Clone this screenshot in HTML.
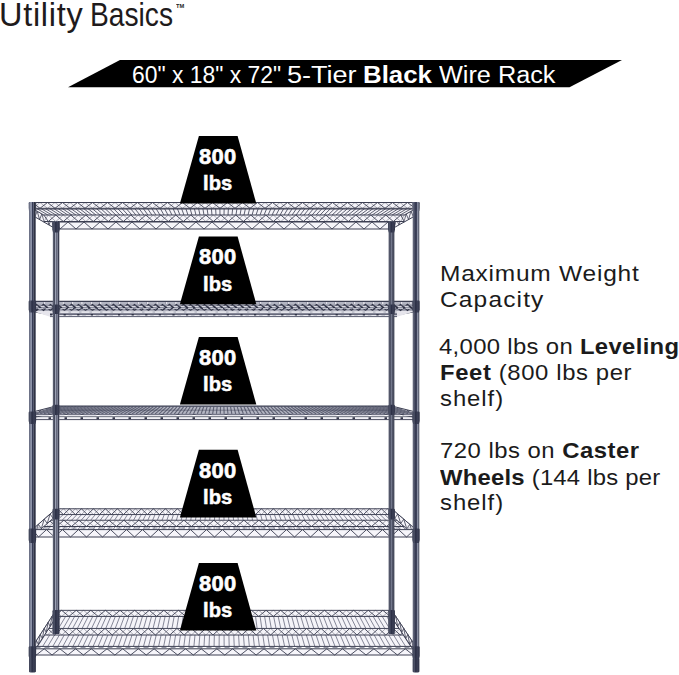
<!DOCTYPE html>
<html><head><meta charset="utf-8"><style>
html,body{margin:0;padding:0;background:#fff;}
body{width:679px;height:675px;position:relative;overflow:hidden;font-family:"Liberation Sans",sans-serif;}
.t{position:absolute;white-space:nowrap;line-height:1;transform-origin:0 0;}
b{font-weight:700;}
</style></head><body>
<svg width="679" height="675" viewBox="0 0 679 675" style="position:absolute;left:0;top:0">
<defs>
 <linearGradient id="post" x1="0" x2="1" y1="0" y2="0">
  <stop offset="0" stop-color="#70758a"/>
  <stop offset="0.14" stop-color="#6b7084"/>
  <stop offset="0.3" stop-color="#9ba1b6"/>
  <stop offset="0.4" stop-color="#868ca2"/>
  <stop offset="0.5" stop-color="#30354f"/>
  <stop offset="0.62" stop-color="#6a6f85"/>
  <stop offset="0.76" stop-color="#2a2d3c"/>
  <stop offset="0.9" stop-color="#3b3f50"/>
  <stop offset="1" stop-color="#5a5e72"/>
 </linearGradient>
 <linearGradient id="postB" x1="0" x2="1" y1="0" y2="0">
  <stop offset="0" stop-color="#7d8295"/>
  <stop offset="0.15" stop-color="#4a4e60"/>
  <stop offset="0.28" stop-color="#474b5e"/>
  <stop offset="0.4" stop-color="#a0a5b8"/>
  <stop offset="0.53" stop-color="#5c6075"/>
  <stop offset="0.68" stop-color="#8b90a3"/>
  <stop offset="0.85" stop-color="#33364a"/>
  <stop offset="1" stop-color="#6a6e80"/>
 </linearGradient>
 <linearGradient id="postR" x1="0" x2="1" y1="0" y2="0">
  <stop offset="0" stop-color="#6a6e80"/>
  <stop offset="0.2" stop-color="#575b70"/>
  <stop offset="0.4" stop-color="#3a3e56"/>
  <stop offset="0.55" stop-color="#30344c"/>
  <stop offset="0.72" stop-color="#8a8fa3"/>
  <stop offset="0.86" stop-color="#656a7c"/>
  <stop offset="1" stop-color="#4c5060"/>
 </linearGradient>
 <linearGradient id="postBR" x1="0" x2="1" y1="0" y2="0">
  <stop offset="0" stop-color="#5a5e70"/>
  <stop offset="0.3" stop-color="#4b4f62"/>
  <stop offset="0.5" stop-color="#72778b"/>
  <stop offset="0.7" stop-color="#4b4f62"/>
  <stop offset="1" stop-color="#444859"/>
 </linearGradient>
 <linearGradient id="collar" x1="0" x2="1" y1="0" y2="0">
  <stop offset="0" stop-color="#3a3e52"/>
  <stop offset="0.25" stop-color="#4e5368"/>
  <stop offset="0.45" stop-color="#2a2e44"/>
  <stop offset="0.7" stop-color="#3c4056"/>
  <stop offset="1" stop-color="#2e3246"/>
 </linearGradient>
</defs>
<polygon points="56.00,222.00 32.50,208.50 32.50,215.50 56.00,229.00" fill="#f5f4f9" />
<line x1="56.00" y1="222.00" x2="32.50" y2="208.50" stroke="#3c3f52" stroke-width="1.0" opacity="1.0"/>
<line x1="56.00" y1="229.00" x2="32.50" y2="215.50" stroke="#3c3f52" stroke-width="1.0" opacity="1.0"/>
<line x1="56.00" y1="222.00" x2="53.65" y2="227.65" stroke="#3c3f52" stroke-width="0.8" opacity="1.0"/>
<line x1="53.65" y1="227.65" x2="51.30" y2="219.30" stroke="#3c3f52" stroke-width="0.8" opacity="1.0"/>
<line x1="51.30" y1="219.30" x2="48.95" y2="224.95" stroke="#3c3f52" stroke-width="0.8" opacity="1.0"/>
<line x1="48.95" y1="224.95" x2="46.60" y2="216.60" stroke="#3c3f52" stroke-width="0.8" opacity="1.0"/>
<line x1="46.60" y1="216.60" x2="44.25" y2="222.25" stroke="#3c3f52" stroke-width="0.8" opacity="1.0"/>
<line x1="44.25" y1="222.25" x2="41.90" y2="213.90" stroke="#3c3f52" stroke-width="0.8" opacity="1.0"/>
<line x1="41.90" y1="213.90" x2="39.55" y2="219.55" stroke="#3c3f52" stroke-width="0.8" opacity="1.0"/>
<line x1="39.55" y1="219.55" x2="37.20" y2="211.20" stroke="#3c3f52" stroke-width="0.8" opacity="1.0"/>
<line x1="37.20" y1="211.20" x2="34.85" y2="216.85" stroke="#3c3f52" stroke-width="0.8" opacity="1.0"/>
<line x1="34.85" y1="216.85" x2="32.50" y2="208.50" stroke="#3c3f52" stroke-width="0.8" opacity="1.0"/>
<polygon points="391.70,222.00 415.80,208.50 415.80,215.50 391.70,229.00" fill="#f5f4f9" />
<line x1="391.70" y1="222.00" x2="415.80" y2="208.50" stroke="#3c3f52" stroke-width="1.0" opacity="1.0"/>
<line x1="391.70" y1="229.00" x2="415.80" y2="215.50" stroke="#3c3f52" stroke-width="1.0" opacity="1.0"/>
<line x1="391.70" y1="222.00" x2="394.11" y2="227.65" stroke="#3c3f52" stroke-width="0.8" opacity="1.0"/>
<line x1="394.11" y1="227.65" x2="396.52" y2="219.30" stroke="#3c3f52" stroke-width="0.8" opacity="1.0"/>
<line x1="396.52" y1="219.30" x2="398.93" y2="224.95" stroke="#3c3f52" stroke-width="0.8" opacity="1.0"/>
<line x1="398.93" y1="224.95" x2="401.34" y2="216.60" stroke="#3c3f52" stroke-width="0.8" opacity="1.0"/>
<line x1="401.34" y1="216.60" x2="403.75" y2="222.25" stroke="#3c3f52" stroke-width="0.8" opacity="1.0"/>
<line x1="403.75" y1="222.25" x2="406.16" y2="213.90" stroke="#3c3f52" stroke-width="0.8" opacity="1.0"/>
<line x1="406.16" y1="213.90" x2="408.57" y2="219.55" stroke="#3c3f52" stroke-width="0.8" opacity="1.0"/>
<line x1="408.57" y1="219.55" x2="410.98" y2="211.20" stroke="#3c3f52" stroke-width="0.8" opacity="1.0"/>
<line x1="410.98" y1="211.20" x2="413.39" y2="216.85" stroke="#3c3f52" stroke-width="0.8" opacity="1.0"/>
<line x1="413.39" y1="216.85" x2="415.80" y2="208.50" stroke="#3c3f52" stroke-width="0.8" opacity="1.0"/>
<polygon points="32.50,208.50 415.80,208.50 391.70,222.00 56.00,222.00" fill="#f5f4f9" />
<line x1="32.50" y1="208.50" x2="56.00" y2="222.00" stroke="#3c3f52" stroke-width="0.9" opacity="0.9"/>
<line x1="36.76" y1="208.50" x2="59.73" y2="222.00" stroke="#3c3f52" stroke-width="0.9" opacity="0.9"/>
<line x1="41.02" y1="208.50" x2="63.46" y2="222.00" stroke="#3c3f52" stroke-width="0.9" opacity="0.9"/>
<line x1="45.28" y1="208.50" x2="67.19" y2="222.00" stroke="#3c3f52" stroke-width="0.9" opacity="0.9"/>
<line x1="49.54" y1="208.50" x2="70.92" y2="222.00" stroke="#3c3f52" stroke-width="0.9" opacity="0.9"/>
<line x1="53.79" y1="208.50" x2="74.65" y2="222.00" stroke="#3c3f52" stroke-width="0.9" opacity="0.9"/>
<line x1="58.05" y1="208.50" x2="78.38" y2="222.00" stroke="#3c3f52" stroke-width="0.9" opacity="0.9"/>
<line x1="62.31" y1="208.50" x2="82.11" y2="222.00" stroke="#3c3f52" stroke-width="0.9" opacity="0.9"/>
<line x1="66.57" y1="208.50" x2="85.84" y2="222.00" stroke="#3c3f52" stroke-width="0.9" opacity="0.9"/>
<line x1="70.83" y1="208.50" x2="89.57" y2="222.00" stroke="#3c3f52" stroke-width="0.9" opacity="0.9"/>
<line x1="75.09" y1="208.50" x2="93.30" y2="222.00" stroke="#3c3f52" stroke-width="0.9" opacity="0.9"/>
<line x1="79.35" y1="208.50" x2="97.03" y2="222.00" stroke="#3c3f52" stroke-width="0.9" opacity="0.9"/>
<line x1="83.61" y1="208.50" x2="100.76" y2="222.00" stroke="#3c3f52" stroke-width="0.9" opacity="0.9"/>
<line x1="87.87" y1="208.50" x2="104.49" y2="222.00" stroke="#3c3f52" stroke-width="0.9" opacity="0.9"/>
<line x1="92.12" y1="208.50" x2="108.22" y2="222.00" stroke="#3c3f52" stroke-width="0.9" opacity="0.9"/>
<line x1="96.38" y1="208.50" x2="111.95" y2="222.00" stroke="#3c3f52" stroke-width="0.9" opacity="0.9"/>
<line x1="100.64" y1="208.50" x2="115.68" y2="222.00" stroke="#3c3f52" stroke-width="0.9" opacity="0.9"/>
<line x1="104.90" y1="208.50" x2="119.41" y2="222.00" stroke="#3c3f52" stroke-width="0.9" opacity="0.9"/>
<line x1="109.16" y1="208.50" x2="123.14" y2="222.00" stroke="#3c3f52" stroke-width="0.9" opacity="0.9"/>
<line x1="113.42" y1="208.50" x2="126.87" y2="222.00" stroke="#3c3f52" stroke-width="0.9" opacity="0.9"/>
<line x1="117.68" y1="208.50" x2="130.60" y2="222.00" stroke="#3c3f52" stroke-width="0.9" opacity="0.9"/>
<line x1="121.94" y1="208.50" x2="134.33" y2="222.00" stroke="#3c3f52" stroke-width="0.9" opacity="0.9"/>
<line x1="126.20" y1="208.50" x2="138.06" y2="222.00" stroke="#3c3f52" stroke-width="0.9" opacity="0.9"/>
<line x1="130.45" y1="208.50" x2="141.79" y2="222.00" stroke="#3c3f52" stroke-width="0.9" opacity="0.9"/>
<line x1="134.71" y1="208.50" x2="145.52" y2="222.00" stroke="#3c3f52" stroke-width="0.9" opacity="0.9"/>
<line x1="138.97" y1="208.50" x2="149.25" y2="222.00" stroke="#3c3f52" stroke-width="0.9" opacity="0.9"/>
<line x1="143.23" y1="208.50" x2="152.98" y2="222.00" stroke="#3c3f52" stroke-width="0.9" opacity="0.9"/>
<line x1="147.49" y1="208.50" x2="156.71" y2="222.00" stroke="#3c3f52" stroke-width="0.9" opacity="0.9"/>
<line x1="151.75" y1="208.50" x2="160.44" y2="222.00" stroke="#3c3f52" stroke-width="0.9" opacity="0.9"/>
<line x1="156.01" y1="208.50" x2="164.17" y2="222.00" stroke="#3c3f52" stroke-width="0.9" opacity="0.9"/>
<line x1="160.27" y1="208.50" x2="167.90" y2="222.00" stroke="#3c3f52" stroke-width="0.9" opacity="0.9"/>
<line x1="164.53" y1="208.50" x2="171.63" y2="222.00" stroke="#3c3f52" stroke-width="0.9" opacity="0.9"/>
<line x1="168.78" y1="208.50" x2="175.36" y2="222.00" stroke="#3c3f52" stroke-width="0.9" opacity="0.9"/>
<line x1="173.04" y1="208.50" x2="179.09" y2="222.00" stroke="#3c3f52" stroke-width="0.9" opacity="0.9"/>
<line x1="177.30" y1="208.50" x2="182.82" y2="222.00" stroke="#3c3f52" stroke-width="0.9" opacity="0.9"/>
<line x1="181.56" y1="208.50" x2="186.55" y2="222.00" stroke="#3c3f52" stroke-width="0.9" opacity="0.9"/>
<line x1="185.82" y1="208.50" x2="190.28" y2="222.00" stroke="#3c3f52" stroke-width="0.9" opacity="0.9"/>
<line x1="190.08" y1="208.50" x2="194.01" y2="222.00" stroke="#3c3f52" stroke-width="0.9" opacity="0.9"/>
<line x1="194.34" y1="208.50" x2="197.74" y2="222.00" stroke="#3c3f52" stroke-width="0.9" opacity="0.9"/>
<line x1="198.60" y1="208.50" x2="201.47" y2="222.00" stroke="#3c3f52" stroke-width="0.9" opacity="0.9"/>
<line x1="202.86" y1="208.50" x2="205.20" y2="222.00" stroke="#3c3f52" stroke-width="0.9" opacity="0.9"/>
<line x1="207.11" y1="208.50" x2="208.93" y2="222.00" stroke="#3c3f52" stroke-width="0.9" opacity="0.9"/>
<line x1="211.37" y1="208.50" x2="212.66" y2="222.00" stroke="#3c3f52" stroke-width="0.9" opacity="0.9"/>
<line x1="215.63" y1="208.50" x2="216.39" y2="222.00" stroke="#3c3f52" stroke-width="0.9" opacity="0.9"/>
<line x1="219.89" y1="208.50" x2="220.12" y2="222.00" stroke="#3c3f52" stroke-width="0.9" opacity="0.9"/>
<line x1="224.15" y1="208.50" x2="223.85" y2="222.00" stroke="#3c3f52" stroke-width="0.9" opacity="0.9"/>
<line x1="228.41" y1="208.50" x2="227.58" y2="222.00" stroke="#3c3f52" stroke-width="0.9" opacity="0.9"/>
<line x1="232.67" y1="208.50" x2="231.31" y2="222.00" stroke="#3c3f52" stroke-width="0.9" opacity="0.9"/>
<line x1="236.93" y1="208.50" x2="235.04" y2="222.00" stroke="#3c3f52" stroke-width="0.9" opacity="0.9"/>
<line x1="241.19" y1="208.50" x2="238.77" y2="222.00" stroke="#3c3f52" stroke-width="0.9" opacity="0.9"/>
<line x1="245.44" y1="208.50" x2="242.50" y2="222.00" stroke="#3c3f52" stroke-width="0.9" opacity="0.9"/>
<line x1="249.70" y1="208.50" x2="246.23" y2="222.00" stroke="#3c3f52" stroke-width="0.9" opacity="0.9"/>
<line x1="253.96" y1="208.50" x2="249.96" y2="222.00" stroke="#3c3f52" stroke-width="0.9" opacity="0.9"/>
<line x1="258.22" y1="208.50" x2="253.69" y2="222.00" stroke="#3c3f52" stroke-width="0.9" opacity="0.9"/>
<line x1="262.48" y1="208.50" x2="257.42" y2="222.00" stroke="#3c3f52" stroke-width="0.9" opacity="0.9"/>
<line x1="266.74" y1="208.50" x2="261.15" y2="222.00" stroke="#3c3f52" stroke-width="0.9" opacity="0.9"/>
<line x1="271.00" y1="208.50" x2="264.88" y2="222.00" stroke="#3c3f52" stroke-width="0.9" opacity="0.9"/>
<line x1="275.26" y1="208.50" x2="268.61" y2="222.00" stroke="#3c3f52" stroke-width="0.9" opacity="0.9"/>
<line x1="279.52" y1="208.50" x2="272.34" y2="222.00" stroke="#3c3f52" stroke-width="0.9" opacity="0.9"/>
<line x1="283.77" y1="208.50" x2="276.07" y2="222.00" stroke="#3c3f52" stroke-width="0.9" opacity="0.9"/>
<line x1="288.03" y1="208.50" x2="279.80" y2="222.00" stroke="#3c3f52" stroke-width="0.9" opacity="0.9"/>
<line x1="292.29" y1="208.50" x2="283.53" y2="222.00" stroke="#3c3f52" stroke-width="0.9" opacity="0.9"/>
<line x1="296.55" y1="208.50" x2="287.26" y2="222.00" stroke="#3c3f52" stroke-width="0.9" opacity="0.9"/>
<line x1="300.81" y1="208.50" x2="290.99" y2="222.00" stroke="#3c3f52" stroke-width="0.9" opacity="0.9"/>
<line x1="305.07" y1="208.50" x2="294.72" y2="222.00" stroke="#3c3f52" stroke-width="0.9" opacity="0.9"/>
<line x1="309.33" y1="208.50" x2="298.45" y2="222.00" stroke="#3c3f52" stroke-width="0.9" opacity="0.9"/>
<line x1="313.59" y1="208.50" x2="302.18" y2="222.00" stroke="#3c3f52" stroke-width="0.9" opacity="0.9"/>
<line x1="317.85" y1="208.50" x2="305.91" y2="222.00" stroke="#3c3f52" stroke-width="0.9" opacity="0.9"/>
<line x1="322.10" y1="208.50" x2="309.64" y2="222.00" stroke="#3c3f52" stroke-width="0.9" opacity="0.9"/>
<line x1="326.36" y1="208.50" x2="313.37" y2="222.00" stroke="#3c3f52" stroke-width="0.9" opacity="0.9"/>
<line x1="330.62" y1="208.50" x2="317.10" y2="222.00" stroke="#3c3f52" stroke-width="0.9" opacity="0.9"/>
<line x1="334.88" y1="208.50" x2="320.83" y2="222.00" stroke="#3c3f52" stroke-width="0.9" opacity="0.9"/>
<line x1="339.14" y1="208.50" x2="324.56" y2="222.00" stroke="#3c3f52" stroke-width="0.9" opacity="0.9"/>
<line x1="343.40" y1="208.50" x2="328.29" y2="222.00" stroke="#3c3f52" stroke-width="0.9" opacity="0.9"/>
<line x1="347.66" y1="208.50" x2="332.02" y2="222.00" stroke="#3c3f52" stroke-width="0.9" opacity="0.9"/>
<line x1="351.92" y1="208.50" x2="335.75" y2="222.00" stroke="#3c3f52" stroke-width="0.9" opacity="0.9"/>
<line x1="356.18" y1="208.50" x2="339.48" y2="222.00" stroke="#3c3f52" stroke-width="0.9" opacity="0.9"/>
<line x1="360.43" y1="208.50" x2="343.21" y2="222.00" stroke="#3c3f52" stroke-width="0.9" opacity="0.9"/>
<line x1="364.69" y1="208.50" x2="346.94" y2="222.00" stroke="#3c3f52" stroke-width="0.9" opacity="0.9"/>
<line x1="368.95" y1="208.50" x2="350.67" y2="222.00" stroke="#3c3f52" stroke-width="0.9" opacity="0.9"/>
<line x1="373.21" y1="208.50" x2="354.40" y2="222.00" stroke="#3c3f52" stroke-width="0.9" opacity="0.9"/>
<line x1="377.47" y1="208.50" x2="358.13" y2="222.00" stroke="#3c3f52" stroke-width="0.9" opacity="0.9"/>
<line x1="381.73" y1="208.50" x2="361.86" y2="222.00" stroke="#3c3f52" stroke-width="0.9" opacity="0.9"/>
<line x1="385.99" y1="208.50" x2="365.59" y2="222.00" stroke="#3c3f52" stroke-width="0.9" opacity="0.9"/>
<line x1="390.25" y1="208.50" x2="369.32" y2="222.00" stroke="#3c3f52" stroke-width="0.9" opacity="0.9"/>
<line x1="394.51" y1="208.50" x2="373.05" y2="222.00" stroke="#3c3f52" stroke-width="0.9" opacity="0.9"/>
<line x1="398.76" y1="208.50" x2="376.78" y2="222.00" stroke="#3c3f52" stroke-width="0.9" opacity="0.9"/>
<line x1="403.02" y1="208.50" x2="380.51" y2="222.00" stroke="#3c3f52" stroke-width="0.9" opacity="0.9"/>
<line x1="407.28" y1="208.50" x2="384.24" y2="222.00" stroke="#3c3f52" stroke-width="0.9" opacity="0.9"/>
<line x1="411.54" y1="208.50" x2="387.97" y2="222.00" stroke="#3c3f52" stroke-width="0.9" opacity="0.9"/>
<line x1="415.80" y1="208.50" x2="391.70" y2="222.00" stroke="#3c3f52" stroke-width="0.9" opacity="0.9"/>
<polygon points="43.81,215.00 404.20,215.00 404.20,221.50 43.81,221.50" fill="#f5f4f9" />
<line x1="43.81" y1="215.00" x2="404.20" y2="215.00" stroke="#3c3f52" stroke-width="1.0" opacity="1.0"/>
<line x1="43.81" y1="221.50" x2="404.20" y2="221.50" stroke="#3c3f52" stroke-width="1.0" opacity="1.0"/>
<polyline points="43.81,215.00 48.31,221.50 55.81,215.00 63.31,221.50 70.81,215.00 78.31,221.50 85.81,215.00 93.31,221.50 100.81,215.00 108.31,221.50 115.81,215.00 123.31,221.50 130.81,215.00 138.31,221.50 145.81,215.00 153.31,221.50 160.81,215.00 168.31,221.50 175.81,215.00 183.31,221.50 190.81,215.00 198.31,221.50 205.81,215.00 213.31,221.50 220.81,215.00 228.31,221.50 235.81,215.00 243.31,221.50 250.81,215.00 258.31,221.50 265.81,215.00 273.31,221.50 280.81,215.00 288.31,221.50 295.81,215.00 303.31,221.50 310.81,215.00 318.31,221.50 325.81,215.00 333.31,221.50 340.81,215.00 348.31,221.50 355.81,215.00 363.31,221.50 370.81,215.00 378.31,221.50 385.81,215.00 393.31,221.50 400.81,215.00 404.20,221.50" fill="none" stroke="#3c3f52" stroke-width="0.9" opacity="1.0"/>
<polyline points="43.81,221.50 48.31,215.00 55.81,221.50 63.31,215.00 70.81,221.50 78.31,215.00 85.81,221.50 93.31,215.00 100.81,221.50 108.31,215.00 115.81,221.50 123.31,215.00 130.81,221.50 138.31,215.00 145.81,221.50 153.31,215.00 160.81,221.50 168.31,215.00 175.81,221.50 183.31,215.00 190.81,221.50 198.31,215.00 205.81,221.50 213.31,215.00 220.81,221.50 228.31,215.00 235.81,221.50 243.31,215.00 250.81,221.50 258.31,215.00 265.81,221.50 273.31,215.00 280.81,221.50 288.31,215.00 295.81,221.50 303.31,215.00 310.81,221.50 318.31,215.00 325.81,221.50 333.31,215.00 340.81,221.50 348.31,215.00 355.81,221.50 363.31,215.00 370.81,221.50 378.31,215.00 385.81,221.50 393.31,215.00 400.81,221.50 404.20,215.00" fill="none" stroke="#3c3f52" stroke-width="0.7200000000000001" opacity="0.55"/>
<line x1="33.67" y1="209.00" x2="414.60" y2="209.00" stroke="#3c3f52" stroke-width="1.0" opacity="1.0"/>
<polygon points="32.50,202.50 415.80,202.50 415.80,208.30 32.50,208.30" fill="#f5f4f9" />
<line x1="32.50" y1="202.50" x2="415.80" y2="202.50" stroke="#3c3f52" stroke-width="1.0" opacity="1.0"/>
<line x1="32.50" y1="208.30" x2="415.80" y2="208.30" stroke="#3c3f52" stroke-width="1.0" opacity="1.0"/>
<polyline points="32.50,202.50 40.00,208.30 47.50,202.50 55.00,208.30 62.50,202.50 70.00,208.30 77.50,202.50 85.00,208.30 92.50,202.50 100.00,208.30 107.50,202.50 115.00,208.30 122.50,202.50 130.00,208.30 137.50,202.50 145.00,208.30 152.50,202.50 160.00,208.30 167.50,202.50 175.00,208.30 182.50,202.50 190.00,208.30 197.50,202.50 205.00,208.30 212.50,202.50 220.00,208.30 227.50,202.50 235.00,208.30 242.50,202.50 250.00,208.30 257.50,202.50 265.00,208.30 272.50,202.50 280.00,208.30 287.50,202.50 295.00,208.30 302.50,202.50 310.00,208.30 317.50,202.50 325.00,208.30 332.50,202.50 340.00,208.30 347.50,202.50 355.00,208.30 362.50,202.50 370.00,208.30 377.50,202.50 385.00,208.30 392.50,202.50 400.00,208.30 407.50,202.50 415.00,208.30 415.80,202.50" fill="none" stroke="#3c3f52" stroke-width="0.9" opacity="1.0"/>
<polyline points="32.50,208.30 40.00,202.50 47.50,208.30 55.00,202.50 62.50,208.30 70.00,202.50 77.50,208.30 85.00,202.50 92.50,208.30 100.00,202.50 107.50,208.30 115.00,202.50 122.50,208.30 130.00,202.50 137.50,208.30 145.00,202.50 152.50,208.30 160.00,202.50 167.50,208.30 175.00,202.50 182.50,208.30 190.00,202.50 197.50,208.30 205.00,202.50 212.50,208.30 220.00,202.50 227.50,208.30 235.00,202.50 242.50,208.30 250.00,202.50 257.50,208.30 265.00,202.50 272.50,208.30 280.00,202.50 287.50,208.30 295.00,202.50 302.50,208.30 310.00,202.50 317.50,208.30 325.00,202.50 332.50,208.30 340.00,202.50 347.50,208.30 355.00,202.50 362.50,208.30 370.00,202.50 377.50,208.30 385.00,202.50 392.50,208.30 400.00,202.50 407.50,208.30 415.00,202.50 415.80,208.30" fill="none" stroke="#3c3f52" stroke-width="0.7200000000000001" opacity="0.55"/>
<polygon points="56.00,222.00 391.70,222.00 391.70,229.00 56.00,229.00" fill="#f5f4f9" />
<line x1="56.00" y1="222.00" x2="391.70" y2="222.00" stroke="#3c3f52" stroke-width="1.0" opacity="1.0"/>
<line x1="56.00" y1="229.00" x2="391.70" y2="229.00" stroke="#3c3f52" stroke-width="1.0" opacity="1.0"/>
<polyline points="56.00,222.00 60.00,229.00 68.00,222.00 76.00,229.00 84.00,222.00 92.00,229.00 100.00,222.00 108.00,229.00 116.00,222.00 124.00,229.00 132.00,222.00 140.00,229.00 148.00,222.00 156.00,229.00 164.00,222.00 172.00,229.00 180.00,222.00 188.00,229.00 196.00,222.00 204.00,229.00 212.00,222.00 220.00,229.00 228.00,222.00 236.00,229.00 244.00,222.00 252.00,229.00 260.00,222.00 268.00,229.00 276.00,222.00 284.00,229.00 292.00,222.00 300.00,229.00 308.00,222.00 316.00,229.00 324.00,222.00 332.00,229.00 340.00,222.00 348.00,229.00 356.00,222.00 364.00,229.00 372.00,222.00 380.00,229.00 388.00,222.00 391.70,229.00" fill="none" stroke="#3c3f52" stroke-width="0.9" opacity="1.0"/>
<polygon points="56.00,309.00 32.50,304.50 32.50,311.50 56.00,316.00" fill="#f5f4f9" />
<line x1="56.00" y1="309.00" x2="32.50" y2="304.50" stroke="#3c3f52" stroke-width="1.0" opacity="1.0"/>
<line x1="56.00" y1="316.00" x2="32.50" y2="311.50" stroke="#3c3f52" stroke-width="1.0" opacity="1.0"/>
<line x1="56.00" y1="309.00" x2="52.08" y2="315.25" stroke="#3c3f52" stroke-width="0.8" opacity="1.0"/>
<line x1="52.08" y1="315.25" x2="48.17" y2="307.50" stroke="#3c3f52" stroke-width="0.8" opacity="1.0"/>
<line x1="48.17" y1="307.50" x2="44.25" y2="313.75" stroke="#3c3f52" stroke-width="0.8" opacity="1.0"/>
<line x1="44.25" y1="313.75" x2="40.33" y2="306.00" stroke="#3c3f52" stroke-width="0.8" opacity="1.0"/>
<line x1="40.33" y1="306.00" x2="36.42" y2="312.25" stroke="#3c3f52" stroke-width="0.8" opacity="1.0"/>
<line x1="36.42" y1="312.25" x2="32.50" y2="304.50" stroke="#3c3f52" stroke-width="0.8" opacity="1.0"/>
<polygon points="391.70,309.00 415.80,304.50 415.80,311.50 391.70,316.00" fill="#f5f4f9" />
<line x1="391.70" y1="309.00" x2="415.80" y2="304.50" stroke="#3c3f52" stroke-width="1.0" opacity="1.0"/>
<line x1="391.70" y1="316.00" x2="415.80" y2="311.50" stroke="#3c3f52" stroke-width="1.0" opacity="1.0"/>
<line x1="391.70" y1="309.00" x2="395.72" y2="315.25" stroke="#3c3f52" stroke-width="0.8" opacity="1.0"/>
<line x1="395.72" y1="315.25" x2="399.73" y2="307.50" stroke="#3c3f52" stroke-width="0.8" opacity="1.0"/>
<line x1="399.73" y1="307.50" x2="403.75" y2="313.75" stroke="#3c3f52" stroke-width="0.8" opacity="1.0"/>
<line x1="403.75" y1="313.75" x2="407.77" y2="306.00" stroke="#3c3f52" stroke-width="0.8" opacity="1.0"/>
<line x1="407.77" y1="306.00" x2="411.78" y2="312.25" stroke="#3c3f52" stroke-width="0.8" opacity="1.0"/>
<line x1="411.78" y1="312.25" x2="415.80" y2="304.50" stroke="#3c3f52" stroke-width="0.8" opacity="1.0"/>
<polygon points="32.50,301.00 415.80,301.00 415.80,311.00 397.00,316.80 50.00,316.80 32.50,311.00" fill="#e6e5ec" />
<line x1="32.50" y1="301.40" x2="415.80" y2="301.40" stroke="#3c3f52" stroke-width="1.2" opacity="1.0"/>
<line x1="34.5" y1="303.0" x2="413.8" y2="303.0" stroke="#5a5d70" stroke-width="2.2" stroke-dasharray="1.6 7.8" stroke-dashoffset="2"/>
<line x1="34.5" y1="303.0" x2="413.8" y2="303.0" stroke="#b4b6c3" stroke-width="2.0" stroke-dasharray="7.8 1.6" stroke-dashoffset="-1"/>
<polygon points="32.50,304.20 415.80,304.20 415.80,310.70 32.50,310.70" fill="#8e91a1" />
<polyline points="32.50,304.40 36.50,310.50 43.50,304.40 50.50,310.50 57.50,304.40 64.50,310.50 71.50,304.40 78.50,310.50 85.50,304.40 92.50,310.50 99.50,304.40 106.50,310.50 113.50,304.40 120.50,310.50 127.50,304.40 134.50,310.50 141.50,304.40 148.50,310.50 155.50,304.40 162.50,310.50 169.50,304.40 176.50,310.50 183.50,304.40 190.50,310.50 197.50,304.40 204.50,310.50 211.50,304.40 218.50,310.50 225.50,304.40 232.50,310.50 239.50,304.40 246.50,310.50 253.50,304.40 260.50,310.50 267.50,304.40 274.50,310.50 281.50,304.40 288.50,310.50 295.50,304.40 302.50,310.50 309.50,304.40 316.50,310.50 323.50,304.40 330.50,310.50 337.50,304.40 344.50,310.50 351.50,304.40 358.50,310.50 365.50,304.40 372.50,310.50 379.50,304.40 386.50,310.50 393.50,304.40 400.50,310.50 407.50,304.40 414.50,310.50 415.80,304.40" fill="none" stroke="#2f3245" stroke-width="1.3" opacity="1.0"/>
<polyline points="32.50,310.50 36.50,304.40 43.50,310.50 50.50,304.40 57.50,310.50 64.50,304.40 71.50,310.50 78.50,304.40 85.50,310.50 92.50,304.40 99.50,310.50 106.50,304.40 113.50,310.50 120.50,304.40 127.50,310.50 134.50,304.40 141.50,310.50 148.50,304.40 155.50,310.50 162.50,304.40 169.50,310.50 176.50,304.40 183.50,310.50 190.50,304.40 197.50,310.50 204.50,304.40 211.50,310.50 218.50,304.40 225.50,310.50 232.50,304.40 239.50,310.50 246.50,304.40 253.50,310.50 260.50,304.40 267.50,310.50 274.50,304.40 281.50,310.50 288.50,304.40 295.50,310.50 302.50,304.40 309.50,310.50 316.50,304.40 323.50,310.50 330.50,304.40 337.50,310.50 344.50,304.40 351.50,310.50 358.50,304.40 365.50,310.50 372.50,304.40 379.50,310.50 386.50,304.40 393.50,310.50 400.50,304.40 407.50,310.50 414.50,304.40 415.80,310.50" fill="none" stroke="#2f3245" stroke-width="1.1" opacity="1.0"/>
<line x1="34.5" y1="306.3" x2="413.8" y2="306.3" stroke="#d8d8e0" stroke-width="1.3" stroke-dasharray="4 3" stroke-dashoffset="1"/>
<line x1="34.5" y1="308.6" x2="413.8" y2="308.6" stroke="#c9cad4" stroke-width="1.0" stroke-dasharray="5 2.5" stroke-dashoffset="4"/>
<polygon points="50.00,310.70 397.00,310.70 397.00,316.60 50.00,316.60" fill="#c2c4ce" />
<line x1="50.0" y1="312.1" x2="397.0" y2="312.1" stroke="#e2e2e9" stroke-width="1.6" stroke-dasharray="8 2.5"/>
<line x1="50.0" y1="315.5" x2="397.0" y2="315.5" stroke="#e6e6ec" stroke-width="1.2" stroke-dasharray="10 3.6" stroke-dashoffset="5"/>
<line x1="50.00" y1="314.20" x2="397.00" y2="314.20" stroke="#4a4d61" stroke-width="1.2" opacity="1.0"/>
<line x1="50.0" y1="314.7" x2="397.0" y2="314.7" stroke="#2f3245" stroke-width="1.6" stroke-dasharray="2.2 11.4"/>
<line x1="50.00" y1="316.60" x2="397.00" y2="316.60" stroke="#5a5d70" stroke-width="1.0" opacity="1.0"/>
<polygon points="56.00,406.00 32.50,412.00 32.50,418.00 56.00,412.00" fill="#f5f4f9" />
<line x1="56.00" y1="406.00" x2="32.50" y2="412.00" stroke="#3c3f52" stroke-width="1.0" opacity="1.0"/>
<line x1="56.00" y1="412.00" x2="32.50" y2="418.00" stroke="#3c3f52" stroke-width="1.0" opacity="1.0"/>
<line x1="56.00" y1="406.00" x2="52.08" y2="413.00" stroke="#3c3f52" stroke-width="0.8" opacity="1.0"/>
<line x1="52.08" y1="413.00" x2="48.17" y2="408.00" stroke="#3c3f52" stroke-width="0.8" opacity="1.0"/>
<line x1="48.17" y1="408.00" x2="44.25" y2="415.00" stroke="#3c3f52" stroke-width="0.8" opacity="1.0"/>
<line x1="44.25" y1="415.00" x2="40.33" y2="410.00" stroke="#3c3f52" stroke-width="0.8" opacity="1.0"/>
<line x1="40.33" y1="410.00" x2="36.42" y2="417.00" stroke="#3c3f52" stroke-width="0.8" opacity="1.0"/>
<line x1="36.42" y1="417.00" x2="32.50" y2="412.00" stroke="#3c3f52" stroke-width="0.8" opacity="1.0"/>
<polygon points="391.70,406.00 415.80,412.00 415.80,418.00 391.70,412.00" fill="#f5f4f9" />
<line x1="391.70" y1="406.00" x2="415.80" y2="412.00" stroke="#3c3f52" stroke-width="1.0" opacity="1.0"/>
<line x1="391.70" y1="412.00" x2="415.80" y2="418.00" stroke="#3c3f52" stroke-width="1.0" opacity="1.0"/>
<line x1="391.70" y1="406.00" x2="395.72" y2="413.00" stroke="#3c3f52" stroke-width="0.8" opacity="1.0"/>
<line x1="395.72" y1="413.00" x2="399.73" y2="408.00" stroke="#3c3f52" stroke-width="0.8" opacity="1.0"/>
<line x1="399.73" y1="408.00" x2="403.75" y2="415.00" stroke="#3c3f52" stroke-width="0.8" opacity="1.0"/>
<line x1="403.75" y1="415.00" x2="407.77" y2="410.00" stroke="#3c3f52" stroke-width="0.8" opacity="1.0"/>
<line x1="407.77" y1="410.00" x2="411.78" y2="417.00" stroke="#3c3f52" stroke-width="0.8" opacity="1.0"/>
<line x1="411.78" y1="417.00" x2="415.80" y2="412.00" stroke="#3c3f52" stroke-width="0.8" opacity="1.0"/>
<polygon points="56.00,406.00 391.70,406.00 415.80,414.20 32.50,414.20" fill="#b4b6c3" />
<line x1="56.00" y1="406.80" x2="32.50" y2="413.80" stroke="#43465a" stroke-width="1.1" opacity="0.75"/>
<line x1="59.36" y1="406.80" x2="36.33" y2="413.80" stroke="#43465a" stroke-width="1.1" opacity="0.75"/>
<line x1="62.71" y1="406.80" x2="40.17" y2="413.80" stroke="#43465a" stroke-width="1.1" opacity="0.75"/>
<line x1="66.07" y1="406.80" x2="44.00" y2="413.80" stroke="#43465a" stroke-width="1.1" opacity="0.75"/>
<line x1="69.43" y1="406.80" x2="47.83" y2="413.80" stroke="#43465a" stroke-width="1.1" opacity="0.75"/>
<line x1="72.78" y1="406.80" x2="51.67" y2="413.80" stroke="#43465a" stroke-width="1.1" opacity="0.75"/>
<line x1="76.14" y1="406.80" x2="55.50" y2="413.80" stroke="#43465a" stroke-width="1.1" opacity="0.75"/>
<line x1="79.50" y1="406.80" x2="59.33" y2="413.80" stroke="#43465a" stroke-width="1.1" opacity="0.75"/>
<line x1="82.86" y1="406.80" x2="63.16" y2="413.80" stroke="#43465a" stroke-width="1.1" opacity="0.75"/>
<line x1="86.21" y1="406.80" x2="67.00" y2="413.80" stroke="#43465a" stroke-width="1.1" opacity="0.75"/>
<line x1="89.57" y1="406.80" x2="70.83" y2="413.80" stroke="#43465a" stroke-width="1.1" opacity="0.75"/>
<line x1="92.93" y1="406.80" x2="74.66" y2="413.80" stroke="#43465a" stroke-width="1.1" opacity="0.75"/>
<line x1="96.28" y1="406.80" x2="78.50" y2="413.80" stroke="#43465a" stroke-width="1.1" opacity="0.75"/>
<line x1="99.64" y1="406.80" x2="82.33" y2="413.80" stroke="#43465a" stroke-width="1.1" opacity="0.75"/>
<line x1="103.00" y1="406.80" x2="86.16" y2="413.80" stroke="#43465a" stroke-width="1.1" opacity="0.75"/>
<line x1="106.35" y1="406.80" x2="90.00" y2="413.80" stroke="#43465a" stroke-width="1.1" opacity="0.75"/>
<line x1="109.71" y1="406.80" x2="93.83" y2="413.80" stroke="#43465a" stroke-width="1.1" opacity="0.75"/>
<line x1="113.07" y1="406.80" x2="97.66" y2="413.80" stroke="#43465a" stroke-width="1.1" opacity="0.75"/>
<line x1="116.43" y1="406.80" x2="101.49" y2="413.80" stroke="#43465a" stroke-width="1.1" opacity="0.75"/>
<line x1="119.78" y1="406.80" x2="105.33" y2="413.80" stroke="#43465a" stroke-width="1.1" opacity="0.75"/>
<line x1="123.14" y1="406.80" x2="109.16" y2="413.80" stroke="#43465a" stroke-width="1.1" opacity="0.75"/>
<line x1="126.50" y1="406.80" x2="112.99" y2="413.80" stroke="#43465a" stroke-width="1.1" opacity="0.75"/>
<line x1="129.85" y1="406.80" x2="116.83" y2="413.80" stroke="#43465a" stroke-width="1.1" opacity="0.75"/>
<line x1="133.21" y1="406.80" x2="120.66" y2="413.80" stroke="#43465a" stroke-width="1.1" opacity="0.75"/>
<line x1="136.57" y1="406.80" x2="124.49" y2="413.80" stroke="#43465a" stroke-width="1.1" opacity="0.75"/>
<line x1="139.93" y1="406.80" x2="128.32" y2="413.80" stroke="#43465a" stroke-width="1.1" opacity="0.75"/>
<line x1="143.28" y1="406.80" x2="132.16" y2="413.80" stroke="#43465a" stroke-width="1.1" opacity="0.75"/>
<line x1="146.64" y1="406.80" x2="135.99" y2="413.80" stroke="#43465a" stroke-width="1.1" opacity="0.75"/>
<line x1="150.00" y1="406.80" x2="139.82" y2="413.80" stroke="#43465a" stroke-width="1.1" opacity="0.75"/>
<line x1="153.35" y1="406.80" x2="143.66" y2="413.80" stroke="#43465a" stroke-width="1.1" opacity="0.75"/>
<line x1="156.71" y1="406.80" x2="147.49" y2="413.80" stroke="#43465a" stroke-width="1.1" opacity="0.75"/>
<line x1="160.07" y1="406.80" x2="151.32" y2="413.80" stroke="#43465a" stroke-width="1.1" opacity="0.75"/>
<line x1="163.42" y1="406.80" x2="155.16" y2="413.80" stroke="#43465a" stroke-width="1.1" opacity="0.75"/>
<line x1="166.78" y1="406.80" x2="158.99" y2="413.80" stroke="#43465a" stroke-width="1.1" opacity="0.75"/>
<line x1="170.14" y1="406.80" x2="162.82" y2="413.80" stroke="#43465a" stroke-width="1.1" opacity="0.75"/>
<line x1="173.50" y1="406.80" x2="166.66" y2="413.80" stroke="#43465a" stroke-width="1.1" opacity="0.75"/>
<line x1="176.85" y1="406.80" x2="170.49" y2="413.80" stroke="#43465a" stroke-width="1.1" opacity="0.75"/>
<line x1="180.21" y1="406.80" x2="174.32" y2="413.80" stroke="#43465a" stroke-width="1.1" opacity="0.75"/>
<line x1="183.57" y1="406.80" x2="178.15" y2="413.80" stroke="#43465a" stroke-width="1.1" opacity="0.75"/>
<line x1="186.92" y1="406.80" x2="181.99" y2="413.80" stroke="#43465a" stroke-width="1.1" opacity="0.75"/>
<line x1="190.28" y1="406.80" x2="185.82" y2="413.80" stroke="#43465a" stroke-width="1.1" opacity="0.75"/>
<line x1="193.64" y1="406.80" x2="189.65" y2="413.80" stroke="#43465a" stroke-width="1.1" opacity="0.75"/>
<line x1="196.99" y1="406.80" x2="193.49" y2="413.80" stroke="#43465a" stroke-width="1.1" opacity="0.75"/>
<line x1="200.35" y1="406.80" x2="197.32" y2="413.80" stroke="#43465a" stroke-width="1.1" opacity="0.75"/>
<line x1="203.71" y1="406.80" x2="201.15" y2="413.80" stroke="#43465a" stroke-width="1.1" opacity="0.75"/>
<line x1="207.06" y1="406.80" x2="204.99" y2="413.80" stroke="#43465a" stroke-width="1.1" opacity="0.75"/>
<line x1="210.42" y1="406.80" x2="208.82" y2="413.80" stroke="#43465a" stroke-width="1.1" opacity="0.75"/>
<line x1="213.78" y1="406.80" x2="212.65" y2="413.80" stroke="#43465a" stroke-width="1.1" opacity="0.75"/>
<line x1="217.14" y1="406.80" x2="216.48" y2="413.80" stroke="#43465a" stroke-width="1.1" opacity="0.75"/>
<line x1="220.49" y1="406.80" x2="220.32" y2="413.80" stroke="#43465a" stroke-width="1.1" opacity="0.75"/>
<line x1="223.85" y1="406.80" x2="224.15" y2="413.80" stroke="#43465a" stroke-width="1.1" opacity="0.75"/>
<line x1="227.21" y1="406.80" x2="227.98" y2="413.80" stroke="#43465a" stroke-width="1.1" opacity="0.75"/>
<line x1="230.56" y1="406.80" x2="231.82" y2="413.80" stroke="#43465a" stroke-width="1.1" opacity="0.75"/>
<line x1="233.92" y1="406.80" x2="235.65" y2="413.80" stroke="#43465a" stroke-width="1.1" opacity="0.75"/>
<line x1="237.28" y1="406.80" x2="239.48" y2="413.80" stroke="#43465a" stroke-width="1.1" opacity="0.75"/>
<line x1="240.64" y1="406.80" x2="243.32" y2="413.80" stroke="#43465a" stroke-width="1.1" opacity="0.75"/>
<line x1="243.99" y1="406.80" x2="247.15" y2="413.80" stroke="#43465a" stroke-width="1.1" opacity="0.75"/>
<line x1="247.35" y1="406.80" x2="250.98" y2="413.80" stroke="#43465a" stroke-width="1.1" opacity="0.75"/>
<line x1="250.71" y1="406.80" x2="254.81" y2="413.80" stroke="#43465a" stroke-width="1.1" opacity="0.75"/>
<line x1="254.06" y1="406.80" x2="258.65" y2="413.80" stroke="#43465a" stroke-width="1.1" opacity="0.75"/>
<line x1="257.42" y1="406.80" x2="262.48" y2="413.80" stroke="#43465a" stroke-width="1.1" opacity="0.75"/>
<line x1="260.78" y1="406.80" x2="266.31" y2="413.80" stroke="#43465a" stroke-width="1.1" opacity="0.75"/>
<line x1="264.13" y1="406.80" x2="270.15" y2="413.80" stroke="#43465a" stroke-width="1.1" opacity="0.75"/>
<line x1="267.49" y1="406.80" x2="273.98" y2="413.80" stroke="#43465a" stroke-width="1.1" opacity="0.75"/>
<line x1="270.85" y1="406.80" x2="277.81" y2="413.80" stroke="#43465a" stroke-width="1.1" opacity="0.75"/>
<line x1="274.21" y1="406.80" x2="281.64" y2="413.80" stroke="#43465a" stroke-width="1.1" opacity="0.75"/>
<line x1="277.56" y1="406.80" x2="285.48" y2="413.80" stroke="#43465a" stroke-width="1.1" opacity="0.75"/>
<line x1="280.92" y1="406.80" x2="289.31" y2="413.80" stroke="#43465a" stroke-width="1.1" opacity="0.75"/>
<line x1="284.28" y1="406.80" x2="293.14" y2="413.80" stroke="#43465a" stroke-width="1.1" opacity="0.75"/>
<line x1="287.63" y1="406.80" x2="296.98" y2="413.80" stroke="#43465a" stroke-width="1.1" opacity="0.75"/>
<line x1="290.99" y1="406.80" x2="300.81" y2="413.80" stroke="#43465a" stroke-width="1.1" opacity="0.75"/>
<line x1="294.35" y1="406.80" x2="304.64" y2="413.80" stroke="#43465a" stroke-width="1.1" opacity="0.75"/>
<line x1="297.70" y1="406.80" x2="308.48" y2="413.80" stroke="#43465a" stroke-width="1.1" opacity="0.75"/>
<line x1="301.06" y1="406.80" x2="312.31" y2="413.80" stroke="#43465a" stroke-width="1.1" opacity="0.75"/>
<line x1="304.42" y1="406.80" x2="316.14" y2="413.80" stroke="#43465a" stroke-width="1.1" opacity="0.75"/>
<line x1="307.77" y1="406.80" x2="319.98" y2="413.80" stroke="#43465a" stroke-width="1.1" opacity="0.75"/>
<line x1="311.13" y1="406.80" x2="323.81" y2="413.80" stroke="#43465a" stroke-width="1.1" opacity="0.75"/>
<line x1="314.49" y1="406.80" x2="327.64" y2="413.80" stroke="#43465a" stroke-width="1.1" opacity="0.75"/>
<line x1="317.85" y1="406.80" x2="331.47" y2="413.80" stroke="#43465a" stroke-width="1.1" opacity="0.75"/>
<line x1="321.20" y1="406.80" x2="335.31" y2="413.80" stroke="#43465a" stroke-width="1.1" opacity="0.75"/>
<line x1="324.56" y1="406.80" x2="339.14" y2="413.80" stroke="#43465a" stroke-width="1.1" opacity="0.75"/>
<line x1="327.92" y1="406.80" x2="342.97" y2="413.80" stroke="#43465a" stroke-width="1.1" opacity="0.75"/>
<line x1="331.27" y1="406.80" x2="346.81" y2="413.80" stroke="#43465a" stroke-width="1.1" opacity="0.75"/>
<line x1="334.63" y1="406.80" x2="350.64" y2="413.80" stroke="#43465a" stroke-width="1.1" opacity="0.75"/>
<line x1="337.99" y1="406.80" x2="354.47" y2="413.80" stroke="#43465a" stroke-width="1.1" opacity="0.75"/>
<line x1="341.34" y1="406.80" x2="358.31" y2="413.80" stroke="#43465a" stroke-width="1.1" opacity="0.75"/>
<line x1="344.70" y1="406.80" x2="362.14" y2="413.80" stroke="#43465a" stroke-width="1.1" opacity="0.75"/>
<line x1="348.06" y1="406.80" x2="365.97" y2="413.80" stroke="#43465a" stroke-width="1.1" opacity="0.75"/>
<line x1="351.42" y1="406.80" x2="369.80" y2="413.80" stroke="#43465a" stroke-width="1.1" opacity="0.75"/>
<line x1="354.77" y1="406.80" x2="373.64" y2="413.80" stroke="#43465a" stroke-width="1.1" opacity="0.75"/>
<line x1="358.13" y1="406.80" x2="377.47" y2="413.80" stroke="#43465a" stroke-width="1.1" opacity="0.75"/>
<line x1="361.49" y1="406.80" x2="381.30" y2="413.80" stroke="#43465a" stroke-width="1.1" opacity="0.75"/>
<line x1="364.84" y1="406.80" x2="385.14" y2="413.80" stroke="#43465a" stroke-width="1.1" opacity="0.75"/>
<line x1="368.20" y1="406.80" x2="388.97" y2="413.80" stroke="#43465a" stroke-width="1.1" opacity="0.75"/>
<line x1="371.56" y1="406.80" x2="392.80" y2="413.80" stroke="#43465a" stroke-width="1.1" opacity="0.75"/>
<line x1="374.91" y1="406.80" x2="396.63" y2="413.80" stroke="#43465a" stroke-width="1.1" opacity="0.75"/>
<line x1="378.27" y1="406.80" x2="400.47" y2="413.80" stroke="#43465a" stroke-width="1.1" opacity="0.75"/>
<line x1="381.63" y1="406.80" x2="404.30" y2="413.80" stroke="#43465a" stroke-width="1.1" opacity="0.75"/>
<line x1="384.99" y1="406.80" x2="408.13" y2="413.80" stroke="#43465a" stroke-width="1.1" opacity="0.75"/>
<line x1="388.34" y1="406.80" x2="411.97" y2="413.80" stroke="#43465a" stroke-width="1.1" opacity="0.75"/>
<line x1="391.70" y1="406.80" x2="415.80" y2="413.80" stroke="#43465a" stroke-width="1.1" opacity="0.75"/>
<line x1="60.0" y1="410.2" x2="387.7" y2="410.2" stroke="#3e4155" stroke-width="0.8" opacity="0.6"/>
<line x1="56.00" y1="406.10" x2="391.70" y2="406.10" stroke="#393c50" stroke-width="1.3" opacity="1.0"/>
<line x1="32.50" y1="414.40" x2="415.80" y2="414.40" stroke="#3c3f53" stroke-width="1.0" opacity="1.0"/>
<line x1="35.5" y1="415.5" x2="412.8" y2="415.5" stroke="#e3e2ea" stroke-width="1.4" stroke-dasharray="13 3"/>
<line x1="32.50" y1="416.80" x2="415.80" y2="416.80" stroke="#3c3f53" stroke-width="0.9" opacity="1.0"/>
<line x1="35.5" y1="418.4" x2="412.8" y2="418.4" stroke="#f0eff5" stroke-width="2" />
<line x1="35.5" y1="418.3" x2="412.8" y2="418.3" stroke="#34374a" stroke-width="2.2" stroke-dasharray="2.5 13.5" stroke-dashoffset="3"/>
<line x1="32.50" y1="419.60" x2="415.80" y2="419.60" stroke="#4a4d61" stroke-width="1.0" opacity="1.0"/>
<polygon points="56.00,508.80 391.70,508.80 415.80,529.50 32.50,529.50" fill="#f5f4f9" />
<line x1="56.00" y1="508.80" x2="32.50" y2="529.50" stroke="#6a6d80" stroke-width="0.85" opacity="0.95"/>
<line x1="60.42" y1="508.80" x2="37.54" y2="529.50" stroke="#6a6d80" stroke-width="0.85" opacity="0.95"/>
<line x1="64.83" y1="508.80" x2="42.59" y2="529.50" stroke="#6a6d80" stroke-width="0.85" opacity="0.95"/>
<line x1="69.25" y1="508.80" x2="47.63" y2="529.50" stroke="#6a6d80" stroke-width="0.85" opacity="0.95"/>
<line x1="73.67" y1="508.80" x2="52.67" y2="529.50" stroke="#6a6d80" stroke-width="0.85" opacity="0.95"/>
<line x1="78.09" y1="508.80" x2="57.72" y2="529.50" stroke="#6a6d80" stroke-width="0.85" opacity="0.95"/>
<line x1="82.50" y1="508.80" x2="62.76" y2="529.50" stroke="#6a6d80" stroke-width="0.85" opacity="0.95"/>
<line x1="86.92" y1="508.80" x2="67.80" y2="529.50" stroke="#6a6d80" stroke-width="0.85" opacity="0.95"/>
<line x1="91.34" y1="508.80" x2="72.85" y2="529.50" stroke="#6a6d80" stroke-width="0.85" opacity="0.95"/>
<line x1="95.75" y1="508.80" x2="77.89" y2="529.50" stroke="#6a6d80" stroke-width="0.85" opacity="0.95"/>
<line x1="100.17" y1="508.80" x2="82.93" y2="529.50" stroke="#6a6d80" stroke-width="0.85" opacity="0.95"/>
<line x1="104.59" y1="508.80" x2="87.98" y2="529.50" stroke="#6a6d80" stroke-width="0.85" opacity="0.95"/>
<line x1="109.01" y1="508.80" x2="93.02" y2="529.50" stroke="#6a6d80" stroke-width="0.85" opacity="0.95"/>
<line x1="113.42" y1="508.80" x2="98.06" y2="529.50" stroke="#6a6d80" stroke-width="0.85" opacity="0.95"/>
<line x1="117.84" y1="508.80" x2="103.11" y2="529.50" stroke="#6a6d80" stroke-width="0.85" opacity="0.95"/>
<line x1="122.26" y1="508.80" x2="108.15" y2="529.50" stroke="#6a6d80" stroke-width="0.85" opacity="0.95"/>
<line x1="126.67" y1="508.80" x2="113.19" y2="529.50" stroke="#6a6d80" stroke-width="0.85" opacity="0.95"/>
<line x1="131.09" y1="508.80" x2="118.24" y2="529.50" stroke="#6a6d80" stroke-width="0.85" opacity="0.95"/>
<line x1="135.51" y1="508.80" x2="123.28" y2="529.50" stroke="#6a6d80" stroke-width="0.85" opacity="0.95"/>
<line x1="139.93" y1="508.80" x2="128.32" y2="529.50" stroke="#6a6d80" stroke-width="0.85" opacity="0.95"/>
<line x1="144.34" y1="508.80" x2="133.37" y2="529.50" stroke="#6a6d80" stroke-width="0.85" opacity="0.95"/>
<line x1="148.76" y1="508.80" x2="138.41" y2="529.50" stroke="#6a6d80" stroke-width="0.85" opacity="0.95"/>
<line x1="153.18" y1="508.80" x2="143.46" y2="529.50" stroke="#6a6d80" stroke-width="0.85" opacity="0.95"/>
<line x1="157.59" y1="508.80" x2="148.50" y2="529.50" stroke="#6a6d80" stroke-width="0.85" opacity="0.95"/>
<line x1="162.01" y1="508.80" x2="153.54" y2="529.50" stroke="#6a6d80" stroke-width="0.85" opacity="0.95"/>
<line x1="166.43" y1="508.80" x2="158.59" y2="529.50" stroke="#6a6d80" stroke-width="0.85" opacity="0.95"/>
<line x1="170.84" y1="508.80" x2="163.63" y2="529.50" stroke="#6a6d80" stroke-width="0.85" opacity="0.95"/>
<line x1="175.26" y1="508.80" x2="168.67" y2="529.50" stroke="#6a6d80" stroke-width="0.85" opacity="0.95"/>
<line x1="179.68" y1="508.80" x2="173.72" y2="529.50" stroke="#6a6d80" stroke-width="0.85" opacity="0.95"/>
<line x1="184.10" y1="508.80" x2="178.76" y2="529.50" stroke="#6a6d80" stroke-width="0.85" opacity="0.95"/>
<line x1="188.51" y1="508.80" x2="183.80" y2="529.50" stroke="#6a6d80" stroke-width="0.85" opacity="0.95"/>
<line x1="192.93" y1="508.80" x2="188.85" y2="529.50" stroke="#6a6d80" stroke-width="0.85" opacity="0.95"/>
<line x1="197.35" y1="508.80" x2="193.89" y2="529.50" stroke="#6a6d80" stroke-width="0.85" opacity="0.95"/>
<line x1="201.76" y1="508.80" x2="198.93" y2="529.50" stroke="#6a6d80" stroke-width="0.85" opacity="0.95"/>
<line x1="206.18" y1="508.80" x2="203.98" y2="529.50" stroke="#6a6d80" stroke-width="0.85" opacity="0.95"/>
<line x1="210.60" y1="508.80" x2="209.02" y2="529.50" stroke="#6a6d80" stroke-width="0.85" opacity="0.95"/>
<line x1="215.02" y1="508.80" x2="214.06" y2="529.50" stroke="#6a6d80" stroke-width="0.85" opacity="0.95"/>
<line x1="219.43" y1="508.80" x2="219.11" y2="529.50" stroke="#6a6d80" stroke-width="0.85" opacity="0.95"/>
<line x1="223.85" y1="508.80" x2="224.15" y2="529.50" stroke="#6a6d80" stroke-width="0.85" opacity="0.95"/>
<line x1="228.27" y1="508.80" x2="229.19" y2="529.50" stroke="#6a6d80" stroke-width="0.85" opacity="0.95"/>
<line x1="232.68" y1="508.80" x2="234.24" y2="529.50" stroke="#6a6d80" stroke-width="0.85" opacity="0.95"/>
<line x1="237.10" y1="508.80" x2="239.28" y2="529.50" stroke="#6a6d80" stroke-width="0.85" opacity="0.95"/>
<line x1="241.52" y1="508.80" x2="244.32" y2="529.50" stroke="#6a6d80" stroke-width="0.85" opacity="0.95"/>
<line x1="245.94" y1="508.80" x2="249.37" y2="529.50" stroke="#6a6d80" stroke-width="0.85" opacity="0.95"/>
<line x1="250.35" y1="508.80" x2="254.41" y2="529.50" stroke="#6a6d80" stroke-width="0.85" opacity="0.95"/>
<line x1="254.77" y1="508.80" x2="259.45" y2="529.50" stroke="#6a6d80" stroke-width="0.85" opacity="0.95"/>
<line x1="259.19" y1="508.80" x2="264.50" y2="529.50" stroke="#6a6d80" stroke-width="0.85" opacity="0.95"/>
<line x1="263.60" y1="508.80" x2="269.54" y2="529.50" stroke="#6a6d80" stroke-width="0.85" opacity="0.95"/>
<line x1="268.02" y1="508.80" x2="274.58" y2="529.50" stroke="#6a6d80" stroke-width="0.85" opacity="0.95"/>
<line x1="272.44" y1="508.80" x2="279.63" y2="529.50" stroke="#6a6d80" stroke-width="0.85" opacity="0.95"/>
<line x1="276.86" y1="508.80" x2="284.67" y2="529.50" stroke="#6a6d80" stroke-width="0.85" opacity="0.95"/>
<line x1="281.27" y1="508.80" x2="289.71" y2="529.50" stroke="#6a6d80" stroke-width="0.85" opacity="0.95"/>
<line x1="285.69" y1="508.80" x2="294.76" y2="529.50" stroke="#6a6d80" stroke-width="0.85" opacity="0.95"/>
<line x1="290.11" y1="508.80" x2="299.80" y2="529.50" stroke="#6a6d80" stroke-width="0.85" opacity="0.95"/>
<line x1="294.52" y1="508.80" x2="304.84" y2="529.50" stroke="#6a6d80" stroke-width="0.85" opacity="0.95"/>
<line x1="298.94" y1="508.80" x2="309.89" y2="529.50" stroke="#6a6d80" stroke-width="0.85" opacity="0.95"/>
<line x1="303.36" y1="508.80" x2="314.93" y2="529.50" stroke="#6a6d80" stroke-width="0.85" opacity="0.95"/>
<line x1="307.77" y1="508.80" x2="319.98" y2="529.50" stroke="#6a6d80" stroke-width="0.85" opacity="0.95"/>
<line x1="312.19" y1="508.80" x2="325.02" y2="529.50" stroke="#6a6d80" stroke-width="0.85" opacity="0.95"/>
<line x1="316.61" y1="508.80" x2="330.06" y2="529.50" stroke="#6a6d80" stroke-width="0.85" opacity="0.95"/>
<line x1="321.03" y1="508.80" x2="335.11" y2="529.50" stroke="#6a6d80" stroke-width="0.85" opacity="0.95"/>
<line x1="325.44" y1="508.80" x2="340.15" y2="529.50" stroke="#6a6d80" stroke-width="0.85" opacity="0.95"/>
<line x1="329.86" y1="508.80" x2="345.19" y2="529.50" stroke="#6a6d80" stroke-width="0.85" opacity="0.95"/>
<line x1="334.28" y1="508.80" x2="350.24" y2="529.50" stroke="#6a6d80" stroke-width="0.85" opacity="0.95"/>
<line x1="338.69" y1="508.80" x2="355.28" y2="529.50" stroke="#6a6d80" stroke-width="0.85" opacity="0.95"/>
<line x1="343.11" y1="508.80" x2="360.32" y2="529.50" stroke="#6a6d80" stroke-width="0.85" opacity="0.95"/>
<line x1="347.53" y1="508.80" x2="365.37" y2="529.50" stroke="#6a6d80" stroke-width="0.85" opacity="0.95"/>
<line x1="351.95" y1="508.80" x2="370.41" y2="529.50" stroke="#6a6d80" stroke-width="0.85" opacity="0.95"/>
<line x1="356.36" y1="508.80" x2="375.45" y2="529.50" stroke="#6a6d80" stroke-width="0.85" opacity="0.95"/>
<line x1="360.78" y1="508.80" x2="380.50" y2="529.50" stroke="#6a6d80" stroke-width="0.85" opacity="0.95"/>
<line x1="365.20" y1="508.80" x2="385.54" y2="529.50" stroke="#6a6d80" stroke-width="0.85" opacity="0.95"/>
<line x1="369.61" y1="508.80" x2="390.58" y2="529.50" stroke="#6a6d80" stroke-width="0.85" opacity="0.95"/>
<line x1="374.03" y1="508.80" x2="395.63" y2="529.50" stroke="#6a6d80" stroke-width="0.85" opacity="0.95"/>
<line x1="378.45" y1="508.80" x2="400.67" y2="529.50" stroke="#6a6d80" stroke-width="0.85" opacity="0.95"/>
<line x1="382.87" y1="508.80" x2="405.71" y2="529.50" stroke="#6a6d80" stroke-width="0.85" opacity="0.95"/>
<line x1="387.28" y1="508.80" x2="410.76" y2="529.50" stroke="#6a6d80" stroke-width="0.85" opacity="0.95"/>
<line x1="391.70" y1="508.80" x2="415.80" y2="529.50" stroke="#6a6d80" stroke-width="0.85" opacity="0.95"/>
<clipPath id="cb1"><polygon points="57.14,507.80 390.54,507.80 399.62,515.60 48.28,515.60"/></clipPath>
<g clip-path="url(#cb1)">
<polygon points="47.42,508.80 400.45,508.80 400.45,514.60 47.42,514.60" fill="#f5f4f9" />
<line x1="47.42" y1="508.80" x2="400.45" y2="508.80" stroke="#3c3f52" stroke-width="1.0" opacity="1.0"/>
<line x1="47.42" y1="514.60" x2="400.45" y2="514.60" stroke="#3c3f52" stroke-width="1.0" opacity="1.0"/>
<polyline points="47.42,508.80 51.42,514.60 57.42,508.80 63.42,514.60 69.42,508.80 75.42,514.60 81.42,508.80 87.42,514.60 93.42,508.80 99.42,514.60 105.42,508.80 111.42,514.60 117.42,508.80 123.42,514.60 129.42,508.80 135.42,514.60 141.42,508.80 147.42,514.60 153.42,508.80 159.42,514.60 165.42,508.80 171.42,514.60 177.42,508.80 183.42,514.60 189.42,508.80 195.42,514.60 201.42,508.80 207.42,514.60 213.42,508.80 219.42,514.60 225.42,508.80 231.42,514.60 237.42,508.80 243.42,514.60 249.42,508.80 255.42,514.60 261.42,508.80 267.42,514.60 273.42,508.80 279.42,514.60 285.42,508.80 291.42,514.60 297.42,508.80 303.42,514.60 309.42,508.80 315.42,514.60 321.42,508.80 327.42,514.60 333.42,508.80 339.42,514.60 345.42,508.80 351.42,514.60 357.42,508.80 363.42,514.60 369.42,508.80 375.42,514.60 381.42,508.80 387.42,514.60 393.42,508.80 399.42,514.60 400.45,508.80" fill="none" stroke="#3c3f52" stroke-width="0.9" opacity="1.0"/>
<polyline points="47.42,514.60 51.42,508.80 57.42,514.60 63.42,508.80 69.42,514.60 75.42,508.80 81.42,514.60 87.42,508.80 93.42,514.60 99.42,508.80 105.42,514.60 111.42,508.80 117.42,514.60 123.42,508.80 129.42,514.60 135.42,508.80 141.42,514.60 147.42,508.80 153.42,514.60 159.42,508.80 165.42,514.60 171.42,508.80 177.42,514.60 183.42,508.80 189.42,514.60 195.42,508.80 201.42,514.60 207.42,508.80 213.42,514.60 219.42,508.80 225.42,514.60 231.42,508.80 237.42,514.60 243.42,508.80 249.42,514.60 255.42,508.80 261.42,514.60 267.42,508.80 273.42,514.60 279.42,508.80 285.42,514.60 291.42,508.80 297.42,514.60 303.42,508.80 309.42,514.60 315.42,508.80 321.42,514.60 327.42,508.80 333.42,514.60 339.42,508.80 345.42,514.60 351.42,508.80 357.42,514.60 363.42,508.80 369.42,514.60 375.42,508.80 381.42,514.60 387.42,508.80 393.42,514.60 399.42,508.80 400.45,514.60" fill="none" stroke="#3c3f52" stroke-width="0.7200000000000001" opacity="0.55"/>
</g>
<clipPath id="cb2"><polygon points="44.19,519.20 403.81,519.20 413.47,527.50 34.77,527.50"/></clipPath>
<g clip-path="url(#cb2)">
<polygon points="33.91,520.20 414.31,520.20 414.31,526.50 33.91,526.50" fill="#f5f4f9" />
<line x1="33.91" y1="520.20" x2="414.31" y2="520.20" stroke="#3c3f52" stroke-width="1.0" opacity="1.0"/>
<line x1="33.91" y1="526.50" x2="414.31" y2="526.50" stroke="#3c3f52" stroke-width="1.0" opacity="1.0"/>
<polyline points="33.91,520.20 41.41,526.50 48.91,520.20 56.41,526.50 63.91,520.20 71.41,526.50 78.91,520.20 86.41,526.50 93.91,520.20 101.41,526.50 108.91,520.20 116.41,526.50 123.91,520.20 131.41,526.50 138.91,520.20 146.41,526.50 153.91,520.20 161.41,526.50 168.91,520.20 176.41,526.50 183.91,520.20 191.41,526.50 198.91,520.20 206.41,526.50 213.91,520.20 221.41,526.50 228.91,520.20 236.41,526.50 243.91,520.20 251.41,526.50 258.91,520.20 266.41,526.50 273.91,520.20 281.41,526.50 288.91,520.20 296.41,526.50 303.91,520.20 311.41,526.50 318.91,520.20 326.41,526.50 333.91,520.20 341.41,526.50 348.91,520.20 356.41,526.50 363.91,520.20 371.41,526.50 378.91,520.20 386.41,526.50 393.91,520.20 401.41,526.50 408.91,520.20 414.31,526.50" fill="none" stroke="#3c3f52" stroke-width="0.9" opacity="1.0"/>
<polyline points="33.91,526.50 41.41,520.20 48.91,526.50 56.41,520.20 63.91,526.50 71.41,520.20 78.91,526.50 86.41,520.20 93.91,526.50 101.41,520.20 108.91,526.50 116.41,520.20 123.91,526.50 131.41,520.20 138.91,526.50 146.41,520.20 153.91,526.50 161.41,520.20 168.91,526.50 176.41,520.20 183.91,526.50 191.41,520.20 198.91,526.50 206.41,520.20 213.91,526.50 221.41,520.20 228.91,526.50 236.41,520.20 243.91,526.50 251.41,520.20 258.91,526.50 266.41,520.20 273.91,526.50 281.41,520.20 288.91,526.50 296.41,520.20 303.91,526.50 311.41,520.20 318.91,526.50 326.41,520.20 333.91,526.50 341.41,520.20 348.91,526.50 356.41,520.20 363.91,526.50 371.41,520.20 378.91,526.50 386.41,520.20 393.91,526.50 401.41,520.20 408.91,526.50 414.31,520.20" fill="none" stroke="#3c3f52" stroke-width="0.7200000000000001" opacity="0.55"/>
</g>
<polygon points="56.00,508.80 32.50,529.50 32.50,536.50 56.00,515.80" fill="#f5f4f9" />
<line x1="56.00" y1="508.80" x2="32.50" y2="529.50" stroke="#3c3f52" stroke-width="1.0" opacity="1.0"/>
<line x1="56.00" y1="515.80" x2="32.50" y2="536.50" stroke="#3c3f52" stroke-width="1.0" opacity="1.0"/>
<line x1="56.00" y1="508.80" x2="53.06" y2="518.39" stroke="#3c3f52" stroke-width="0.8" opacity="1.0"/>
<line x1="53.06" y1="518.39" x2="50.12" y2="513.98" stroke="#3c3f52" stroke-width="0.8" opacity="1.0"/>
<line x1="50.12" y1="513.98" x2="47.19" y2="523.56" stroke="#3c3f52" stroke-width="0.8" opacity="1.0"/>
<line x1="47.19" y1="523.56" x2="44.25" y2="519.15" stroke="#3c3f52" stroke-width="0.8" opacity="1.0"/>
<line x1="44.25" y1="519.15" x2="41.31" y2="528.74" stroke="#3c3f52" stroke-width="0.8" opacity="1.0"/>
<line x1="41.31" y1="528.74" x2="38.38" y2="524.33" stroke="#3c3f52" stroke-width="0.8" opacity="1.0"/>
<line x1="38.38" y1="524.33" x2="35.44" y2="533.91" stroke="#3c3f52" stroke-width="0.8" opacity="1.0"/>
<line x1="35.44" y1="533.91" x2="32.50" y2="529.50" stroke="#3c3f52" stroke-width="0.8" opacity="1.0"/>
<polygon points="391.70,508.80 415.80,529.50 415.80,536.50 391.70,515.80" fill="#f5f4f9" />
<line x1="391.70" y1="508.80" x2="415.80" y2="529.50" stroke="#3c3f52" stroke-width="1.0" opacity="1.0"/>
<line x1="391.70" y1="515.80" x2="415.80" y2="536.50" stroke="#3c3f52" stroke-width="1.0" opacity="1.0"/>
<line x1="391.70" y1="508.80" x2="394.71" y2="518.39" stroke="#3c3f52" stroke-width="0.8" opacity="1.0"/>
<line x1="394.71" y1="518.39" x2="397.73" y2="513.98" stroke="#3c3f52" stroke-width="0.8" opacity="1.0"/>
<line x1="397.73" y1="513.98" x2="400.74" y2="523.56" stroke="#3c3f52" stroke-width="0.8" opacity="1.0"/>
<line x1="400.74" y1="523.56" x2="403.75" y2="519.15" stroke="#3c3f52" stroke-width="0.8" opacity="1.0"/>
<line x1="403.75" y1="519.15" x2="406.76" y2="528.74" stroke="#3c3f52" stroke-width="0.8" opacity="1.0"/>
<line x1="406.76" y1="528.74" x2="409.77" y2="524.33" stroke="#3c3f52" stroke-width="0.8" opacity="1.0"/>
<line x1="409.77" y1="524.33" x2="412.79" y2="533.91" stroke="#3c3f52" stroke-width="0.8" opacity="1.0"/>
<line x1="412.79" y1="533.91" x2="415.80" y2="529.50" stroke="#3c3f52" stroke-width="0.8" opacity="1.0"/>
<line x1="35.5" y1="528.0" x2="412.8" y2="528.0" stroke="#8a8c9b" stroke-width="1.0" stroke-dasharray="5 4"/>
<polygon points="32.50,529.60 415.80,529.60 415.80,537.00 32.50,537.00" fill="#f6f5fa" />
<line x1="32.50" y1="529.60" x2="415.80" y2="529.60" stroke="#3c3f52" stroke-width="1.0" opacity="1.0"/>
<line x1="32.50" y1="537.00" x2="415.80" y2="537.00" stroke="#3c3f52" stroke-width="1.0" opacity="1.0"/>
<polyline points="32.50,529.60 38.50,537.00 46.50,529.60 54.50,537.00 62.50,529.60 70.50,537.00 78.50,529.60 86.50,537.00 94.50,529.60 102.50,537.00 110.50,529.60 118.50,537.00 126.50,529.60 134.50,537.00 142.50,529.60 150.50,537.00 158.50,529.60 166.50,537.00 174.50,529.60 182.50,537.00 190.50,529.60 198.50,537.00 206.50,529.60 214.50,537.00 222.50,529.60 230.50,537.00 238.50,529.60 246.50,537.00 254.50,529.60 262.50,537.00 270.50,529.60 278.50,537.00 286.50,529.60 294.50,537.00 302.50,529.60 310.50,537.00 318.50,529.60 326.50,537.00 334.50,529.60 342.50,537.00 350.50,529.60 358.50,537.00 366.50,529.60 374.50,537.00 382.50,529.60 390.50,537.00 398.50,529.60 406.50,537.00 414.50,529.60 415.80,537.00" fill="none" stroke="#3c3f52" stroke-width="0.9" opacity="1.0"/>
<polygon points="56.00,610.30 391.70,610.30 415.80,646.60 32.50,646.60" fill="#f5f4f9" />
<line x1="56.00" y1="610.30" x2="32.50" y2="646.60" stroke="#6a6d80" stroke-width="0.85" opacity="0.95"/>
<line x1="60.42" y1="610.30" x2="37.54" y2="646.60" stroke="#6a6d80" stroke-width="0.85" opacity="0.95"/>
<line x1="64.83" y1="610.30" x2="42.59" y2="646.60" stroke="#6a6d80" stroke-width="0.85" opacity="0.95"/>
<line x1="69.25" y1="610.30" x2="47.63" y2="646.60" stroke="#6a6d80" stroke-width="0.85" opacity="0.95"/>
<line x1="73.67" y1="610.30" x2="52.67" y2="646.60" stroke="#6a6d80" stroke-width="0.85" opacity="0.95"/>
<line x1="78.09" y1="610.30" x2="57.72" y2="646.60" stroke="#6a6d80" stroke-width="0.85" opacity="0.95"/>
<line x1="82.50" y1="610.30" x2="62.76" y2="646.60" stroke="#6a6d80" stroke-width="0.85" opacity="0.95"/>
<line x1="86.92" y1="610.30" x2="67.80" y2="646.60" stroke="#6a6d80" stroke-width="0.85" opacity="0.95"/>
<line x1="91.34" y1="610.30" x2="72.85" y2="646.60" stroke="#6a6d80" stroke-width="0.85" opacity="0.95"/>
<line x1="95.75" y1="610.30" x2="77.89" y2="646.60" stroke="#6a6d80" stroke-width="0.85" opacity="0.95"/>
<line x1="100.17" y1="610.30" x2="82.93" y2="646.60" stroke="#6a6d80" stroke-width="0.85" opacity="0.95"/>
<line x1="104.59" y1="610.30" x2="87.98" y2="646.60" stroke="#6a6d80" stroke-width="0.85" opacity="0.95"/>
<line x1="109.01" y1="610.30" x2="93.02" y2="646.60" stroke="#6a6d80" stroke-width="0.85" opacity="0.95"/>
<line x1="113.42" y1="610.30" x2="98.06" y2="646.60" stroke="#6a6d80" stroke-width="0.85" opacity="0.95"/>
<line x1="117.84" y1="610.30" x2="103.11" y2="646.60" stroke="#6a6d80" stroke-width="0.85" opacity="0.95"/>
<line x1="122.26" y1="610.30" x2="108.15" y2="646.60" stroke="#6a6d80" stroke-width="0.85" opacity="0.95"/>
<line x1="126.67" y1="610.30" x2="113.19" y2="646.60" stroke="#6a6d80" stroke-width="0.85" opacity="0.95"/>
<line x1="131.09" y1="610.30" x2="118.24" y2="646.60" stroke="#6a6d80" stroke-width="0.85" opacity="0.95"/>
<line x1="135.51" y1="610.30" x2="123.28" y2="646.60" stroke="#6a6d80" stroke-width="0.85" opacity="0.95"/>
<line x1="139.93" y1="610.30" x2="128.32" y2="646.60" stroke="#6a6d80" stroke-width="0.85" opacity="0.95"/>
<line x1="144.34" y1="610.30" x2="133.37" y2="646.60" stroke="#6a6d80" stroke-width="0.85" opacity="0.95"/>
<line x1="148.76" y1="610.30" x2="138.41" y2="646.60" stroke="#6a6d80" stroke-width="0.85" opacity="0.95"/>
<line x1="153.18" y1="610.30" x2="143.46" y2="646.60" stroke="#6a6d80" stroke-width="0.85" opacity="0.95"/>
<line x1="157.59" y1="610.30" x2="148.50" y2="646.60" stroke="#6a6d80" stroke-width="0.85" opacity="0.95"/>
<line x1="162.01" y1="610.30" x2="153.54" y2="646.60" stroke="#6a6d80" stroke-width="0.85" opacity="0.95"/>
<line x1="166.43" y1="610.30" x2="158.59" y2="646.60" stroke="#6a6d80" stroke-width="0.85" opacity="0.95"/>
<line x1="170.84" y1="610.30" x2="163.63" y2="646.60" stroke="#6a6d80" stroke-width="0.85" opacity="0.95"/>
<line x1="175.26" y1="610.30" x2="168.67" y2="646.60" stroke="#6a6d80" stroke-width="0.85" opacity="0.95"/>
<line x1="179.68" y1="610.30" x2="173.72" y2="646.60" stroke="#6a6d80" stroke-width="0.85" opacity="0.95"/>
<line x1="184.10" y1="610.30" x2="178.76" y2="646.60" stroke="#6a6d80" stroke-width="0.85" opacity="0.95"/>
<line x1="188.51" y1="610.30" x2="183.80" y2="646.60" stroke="#6a6d80" stroke-width="0.85" opacity="0.95"/>
<line x1="192.93" y1="610.30" x2="188.85" y2="646.60" stroke="#6a6d80" stroke-width="0.85" opacity="0.95"/>
<line x1="197.35" y1="610.30" x2="193.89" y2="646.60" stroke="#6a6d80" stroke-width="0.85" opacity="0.95"/>
<line x1="201.76" y1="610.30" x2="198.93" y2="646.60" stroke="#6a6d80" stroke-width="0.85" opacity="0.95"/>
<line x1="206.18" y1="610.30" x2="203.98" y2="646.60" stroke="#6a6d80" stroke-width="0.85" opacity="0.95"/>
<line x1="210.60" y1="610.30" x2="209.02" y2="646.60" stroke="#6a6d80" stroke-width="0.85" opacity="0.95"/>
<line x1="215.02" y1="610.30" x2="214.06" y2="646.60" stroke="#6a6d80" stroke-width="0.85" opacity="0.95"/>
<line x1="219.43" y1="610.30" x2="219.11" y2="646.60" stroke="#6a6d80" stroke-width="0.85" opacity="0.95"/>
<line x1="223.85" y1="610.30" x2="224.15" y2="646.60" stroke="#6a6d80" stroke-width="0.85" opacity="0.95"/>
<line x1="228.27" y1="610.30" x2="229.19" y2="646.60" stroke="#6a6d80" stroke-width="0.85" opacity="0.95"/>
<line x1="232.68" y1="610.30" x2="234.24" y2="646.60" stroke="#6a6d80" stroke-width="0.85" opacity="0.95"/>
<line x1="237.10" y1="610.30" x2="239.28" y2="646.60" stroke="#6a6d80" stroke-width="0.85" opacity="0.95"/>
<line x1="241.52" y1="610.30" x2="244.32" y2="646.60" stroke="#6a6d80" stroke-width="0.85" opacity="0.95"/>
<line x1="245.94" y1="610.30" x2="249.37" y2="646.60" stroke="#6a6d80" stroke-width="0.85" opacity="0.95"/>
<line x1="250.35" y1="610.30" x2="254.41" y2="646.60" stroke="#6a6d80" stroke-width="0.85" opacity="0.95"/>
<line x1="254.77" y1="610.30" x2="259.45" y2="646.60" stroke="#6a6d80" stroke-width="0.85" opacity="0.95"/>
<line x1="259.19" y1="610.30" x2="264.50" y2="646.60" stroke="#6a6d80" stroke-width="0.85" opacity="0.95"/>
<line x1="263.60" y1="610.30" x2="269.54" y2="646.60" stroke="#6a6d80" stroke-width="0.85" opacity="0.95"/>
<line x1="268.02" y1="610.30" x2="274.58" y2="646.60" stroke="#6a6d80" stroke-width="0.85" opacity="0.95"/>
<line x1="272.44" y1="610.30" x2="279.63" y2="646.60" stroke="#6a6d80" stroke-width="0.85" opacity="0.95"/>
<line x1="276.86" y1="610.30" x2="284.67" y2="646.60" stroke="#6a6d80" stroke-width="0.85" opacity="0.95"/>
<line x1="281.27" y1="610.30" x2="289.71" y2="646.60" stroke="#6a6d80" stroke-width="0.85" opacity="0.95"/>
<line x1="285.69" y1="610.30" x2="294.76" y2="646.60" stroke="#6a6d80" stroke-width="0.85" opacity="0.95"/>
<line x1="290.11" y1="610.30" x2="299.80" y2="646.60" stroke="#6a6d80" stroke-width="0.85" opacity="0.95"/>
<line x1="294.52" y1="610.30" x2="304.84" y2="646.60" stroke="#6a6d80" stroke-width="0.85" opacity="0.95"/>
<line x1="298.94" y1="610.30" x2="309.89" y2="646.60" stroke="#6a6d80" stroke-width="0.85" opacity="0.95"/>
<line x1="303.36" y1="610.30" x2="314.93" y2="646.60" stroke="#6a6d80" stroke-width="0.85" opacity="0.95"/>
<line x1="307.77" y1="610.30" x2="319.98" y2="646.60" stroke="#6a6d80" stroke-width="0.85" opacity="0.95"/>
<line x1="312.19" y1="610.30" x2="325.02" y2="646.60" stroke="#6a6d80" stroke-width="0.85" opacity="0.95"/>
<line x1="316.61" y1="610.30" x2="330.06" y2="646.60" stroke="#6a6d80" stroke-width="0.85" opacity="0.95"/>
<line x1="321.03" y1="610.30" x2="335.11" y2="646.60" stroke="#6a6d80" stroke-width="0.85" opacity="0.95"/>
<line x1="325.44" y1="610.30" x2="340.15" y2="646.60" stroke="#6a6d80" stroke-width="0.85" opacity="0.95"/>
<line x1="329.86" y1="610.30" x2="345.19" y2="646.60" stroke="#6a6d80" stroke-width="0.85" opacity="0.95"/>
<line x1="334.28" y1="610.30" x2="350.24" y2="646.60" stroke="#6a6d80" stroke-width="0.85" opacity="0.95"/>
<line x1="338.69" y1="610.30" x2="355.28" y2="646.60" stroke="#6a6d80" stroke-width="0.85" opacity="0.95"/>
<line x1="343.11" y1="610.30" x2="360.32" y2="646.60" stroke="#6a6d80" stroke-width="0.85" opacity="0.95"/>
<line x1="347.53" y1="610.30" x2="365.37" y2="646.60" stroke="#6a6d80" stroke-width="0.85" opacity="0.95"/>
<line x1="351.95" y1="610.30" x2="370.41" y2="646.60" stroke="#6a6d80" stroke-width="0.85" opacity="0.95"/>
<line x1="356.36" y1="610.30" x2="375.45" y2="646.60" stroke="#6a6d80" stroke-width="0.85" opacity="0.95"/>
<line x1="360.78" y1="610.30" x2="380.50" y2="646.60" stroke="#6a6d80" stroke-width="0.85" opacity="0.95"/>
<line x1="365.20" y1="610.30" x2="385.54" y2="646.60" stroke="#6a6d80" stroke-width="0.85" opacity="0.95"/>
<line x1="369.61" y1="610.30" x2="390.58" y2="646.60" stroke="#6a6d80" stroke-width="0.85" opacity="0.95"/>
<line x1="374.03" y1="610.30" x2="395.63" y2="646.60" stroke="#6a6d80" stroke-width="0.85" opacity="0.95"/>
<line x1="378.45" y1="610.30" x2="400.67" y2="646.60" stroke="#6a6d80" stroke-width="0.85" opacity="0.95"/>
<line x1="382.87" y1="610.30" x2="405.71" y2="646.60" stroke="#6a6d80" stroke-width="0.85" opacity="0.95"/>
<line x1="387.28" y1="610.30" x2="410.76" y2="646.60" stroke="#6a6d80" stroke-width="0.85" opacity="0.95"/>
<line x1="391.70" y1="610.30" x2="415.80" y2="646.60" stroke="#6a6d80" stroke-width="0.85" opacity="0.95"/>
<clipPath id="cb3"><polygon points="56.65,609.30 391.04,609.30 396.41,617.40 51.40,617.40"/></clipPath>
<g clip-path="url(#cb3)">
<polygon points="50.05,610.30 397.75,610.30 397.75,616.40 50.05,616.40" fill="#f5f4f9" />
<line x1="50.05" y1="610.30" x2="397.75" y2="610.30" stroke="#3c3f52" stroke-width="1.0" opacity="1.0"/>
<line x1="50.05" y1="616.40" x2="397.75" y2="616.40" stroke="#3c3f52" stroke-width="1.0" opacity="1.0"/>
<polyline points="50.05,610.30 54.35,616.40 61.65,610.30 68.95,616.40 76.25,610.30 83.55,616.40 90.85,610.30 98.15,616.40 105.45,610.30 112.75,616.40 120.05,610.30 127.35,616.40 134.65,610.30 141.95,616.40 149.25,610.30 156.55,616.40 163.85,610.30 171.15,616.40 178.45,610.30 185.75,616.40 193.05,610.30 200.35,616.40 207.65,610.30 214.95,616.40 222.25,610.30 229.55,616.40 236.85,610.30 244.15,616.40 251.45,610.30 258.75,616.40 266.05,610.30 273.35,616.40 280.65,610.30 287.95,616.40 295.25,610.30 302.55,616.40 309.85,610.30 317.15,616.40 324.45,610.30 331.75,616.40 339.05,610.30 346.35,616.40 353.65,610.30 360.95,616.40 368.25,610.30 375.55,616.40 382.85,610.30 390.15,616.40 397.45,610.30 397.75,616.40" fill="none" stroke="#3c3f52" stroke-width="0.9" opacity="1.0"/>
<polyline points="50.05,616.40 54.35,610.30 61.65,616.40 68.95,610.30 76.25,616.40 83.55,610.30 90.85,616.40 98.15,610.30 105.45,616.40 112.75,610.30 120.05,616.40 127.35,610.30 134.65,616.40 141.95,610.30 149.25,616.40 156.55,610.30 163.85,616.40 171.15,610.30 178.45,616.40 185.75,610.30 193.05,616.40 200.35,610.30 207.65,616.40 214.95,610.30 222.25,616.40 229.55,610.30 236.85,616.40 244.15,610.30 251.45,616.40 258.75,610.30 266.05,616.40 273.35,610.30 280.65,616.40 287.95,610.30 295.25,616.40 302.55,610.30 309.85,616.40 317.15,610.30 324.45,616.40 331.75,610.30 339.05,616.40 346.35,610.30 353.65,616.40 360.95,610.30 368.25,616.40 375.55,610.30 382.85,616.40 390.15,610.30 397.45,616.40 397.75,610.30" fill="none" stroke="#3c3f52" stroke-width="0.7200000000000001" opacity="0.55"/>
</g>
<clipPath id="cb4"><polygon points="44.93,627.40 403.05,627.40 408.76,636.00 39.36,636.00"/></clipPath>
<g clip-path="url(#cb4)">
<polygon points="38.01,628.40 410.10,628.40 410.10,635.00 38.01,635.00" fill="#f5f4f9" />
<line x1="38.01" y1="628.40" x2="410.10" y2="628.40" stroke="#3c3f52" stroke-width="1.0" opacity="1.0"/>
<line x1="38.01" y1="635.00" x2="410.10" y2="635.00" stroke="#3c3f52" stroke-width="1.0" opacity="1.0"/>
<polyline points="38.01,628.40 40.21,635.00 47.41,628.40 54.61,635.00 61.81,628.40 69.01,635.00 76.21,628.40 83.41,635.00 90.61,628.40 97.81,635.00 105.01,628.40 112.21,635.00 119.41,628.40 126.61,635.00 133.81,628.40 141.01,635.00 148.21,628.40 155.41,635.00 162.61,628.40 169.81,635.00 177.01,628.40 184.21,635.00 191.41,628.40 198.61,635.00 205.81,628.40 213.01,635.00 220.21,628.40 227.41,635.00 234.61,628.40 241.81,635.00 249.01,628.40 256.21,635.00 263.41,628.40 270.61,635.00 277.81,628.40 285.01,635.00 292.21,628.40 299.41,635.00 306.61,628.40 313.81,635.00 321.01,628.40 328.21,635.00 335.41,628.40 342.61,635.00 349.81,628.40 357.01,635.00 364.21,628.40 371.41,635.00 378.61,628.40 385.81,635.00 393.01,628.40 400.21,635.00 407.41,628.40 410.10,635.00" fill="none" stroke="#3c3f52" stroke-width="0.9" opacity="1.0"/>
<polyline points="38.01,635.00 40.21,628.40 47.41,635.00 54.61,628.40 61.81,635.00 69.01,628.40 76.21,635.00 83.41,628.40 90.61,635.00 97.81,628.40 105.01,635.00 112.21,628.40 119.41,635.00 126.61,628.40 133.81,635.00 141.01,628.40 148.21,635.00 155.41,628.40 162.61,635.00 169.81,628.40 177.01,635.00 184.21,628.40 191.41,635.00 198.61,628.40 205.81,635.00 213.01,628.40 220.21,635.00 227.41,628.40 234.61,635.00 241.81,628.40 249.01,635.00 256.21,628.40 263.41,635.00 270.61,628.40 277.81,635.00 285.01,628.40 292.21,635.00 299.41,628.40 306.61,635.00 313.81,628.40 321.01,635.00 328.21,628.40 335.41,635.00 342.61,628.40 349.81,635.00 357.01,628.40 364.21,635.00 371.41,628.40 378.61,635.00 385.81,628.40 393.01,635.00 400.21,628.40 407.41,635.00 410.10,628.40" fill="none" stroke="#3c3f52" stroke-width="0.7200000000000001" opacity="0.55"/>
</g>
<polygon points="56.00,610.30 32.50,646.60 32.50,653.60 56.00,617.30" fill="#f5f4f9" />
<line x1="56.00" y1="610.30" x2="32.50" y2="646.60" stroke="#3c3f52" stroke-width="1.0" opacity="1.0"/>
<line x1="56.00" y1="617.30" x2="32.50" y2="653.60" stroke="#3c3f52" stroke-width="1.0" opacity="1.0"/>
<line x1="56.00" y1="610.30" x2="54.04" y2="620.32" stroke="#3c3f52" stroke-width="0.8" opacity="1.0"/>
<line x1="54.04" y1="620.32" x2="52.08" y2="616.35" stroke="#3c3f52" stroke-width="0.8" opacity="1.0"/>
<line x1="52.08" y1="616.35" x2="50.12" y2="626.38" stroke="#3c3f52" stroke-width="0.8" opacity="1.0"/>
<line x1="50.12" y1="626.38" x2="48.17" y2="622.40" stroke="#3c3f52" stroke-width="0.8" opacity="1.0"/>
<line x1="48.17" y1="622.40" x2="46.21" y2="632.42" stroke="#3c3f52" stroke-width="0.8" opacity="1.0"/>
<line x1="46.21" y1="632.42" x2="44.25" y2="628.45" stroke="#3c3f52" stroke-width="0.8" opacity="1.0"/>
<line x1="44.25" y1="628.45" x2="42.29" y2="638.48" stroke="#3c3f52" stroke-width="0.8" opacity="1.0"/>
<line x1="42.29" y1="638.48" x2="40.33" y2="634.50" stroke="#3c3f52" stroke-width="0.8" opacity="1.0"/>
<line x1="40.33" y1="634.50" x2="38.38" y2="644.52" stroke="#3c3f52" stroke-width="0.8" opacity="1.0"/>
<line x1="38.38" y1="644.52" x2="36.42" y2="640.55" stroke="#3c3f52" stroke-width="0.8" opacity="1.0"/>
<line x1="36.42" y1="640.55" x2="34.46" y2="650.58" stroke="#3c3f52" stroke-width="0.8" opacity="1.0"/>
<line x1="34.46" y1="650.58" x2="32.50" y2="646.60" stroke="#3c3f52" stroke-width="0.8" opacity="1.0"/>
<polygon points="391.70,610.30 415.80,646.60 415.80,653.60 391.70,617.30" fill="#f5f4f9" />
<line x1="391.70" y1="610.30" x2="415.80" y2="646.60" stroke="#3c3f52" stroke-width="1.0" opacity="1.0"/>
<line x1="391.70" y1="617.30" x2="415.80" y2="653.60" stroke="#3c3f52" stroke-width="1.0" opacity="1.0"/>
<line x1="391.70" y1="610.30" x2="393.71" y2="620.32" stroke="#3c3f52" stroke-width="0.8" opacity="1.0"/>
<line x1="393.71" y1="620.32" x2="395.72" y2="616.35" stroke="#3c3f52" stroke-width="0.8" opacity="1.0"/>
<line x1="395.72" y1="616.35" x2="397.73" y2="626.38" stroke="#3c3f52" stroke-width="0.8" opacity="1.0"/>
<line x1="397.73" y1="626.38" x2="399.73" y2="622.40" stroke="#3c3f52" stroke-width="0.8" opacity="1.0"/>
<line x1="399.73" y1="622.40" x2="401.74" y2="632.42" stroke="#3c3f52" stroke-width="0.8" opacity="1.0"/>
<line x1="401.74" y1="632.42" x2="403.75" y2="628.45" stroke="#3c3f52" stroke-width="0.8" opacity="1.0"/>
<line x1="403.75" y1="628.45" x2="405.76" y2="638.48" stroke="#3c3f52" stroke-width="0.8" opacity="1.0"/>
<line x1="405.76" y1="638.48" x2="407.77" y2="634.50" stroke="#3c3f52" stroke-width="0.8" opacity="1.0"/>
<line x1="407.77" y1="634.50" x2="409.77" y2="644.52" stroke="#3c3f52" stroke-width="0.8" opacity="1.0"/>
<line x1="409.77" y1="644.52" x2="411.78" y2="640.55" stroke="#3c3f52" stroke-width="0.8" opacity="1.0"/>
<line x1="411.78" y1="640.55" x2="413.79" y2="650.58" stroke="#3c3f52" stroke-width="0.8" opacity="1.0"/>
<line x1="413.79" y1="650.58" x2="415.80" y2="646.60" stroke="#3c3f52" stroke-width="0.8" opacity="1.0"/>
<line x1="35.5" y1="647.4" x2="412.8" y2="647.4" stroke="#8a8c9b" stroke-width="1.0" stroke-dasharray="5 4"/>
<line x1="32.50" y1="646.40" x2="415.80" y2="646.40" stroke="#3c3f52" stroke-width="1.0" opacity="1.0"/>
<polygon points="32.50,648.80 415.80,648.80 415.80,655.00 32.50,655.00" fill="#f6f5fa" />
<line x1="32.50" y1="648.80" x2="415.80" y2="648.80" stroke="#3c3f52" stroke-width="1.0" opacity="1.0"/>
<line x1="32.50" y1="655.00" x2="415.80" y2="655.00" stroke="#3c3f52" stroke-width="1.0" opacity="1.0"/>
<polyline points="32.50,648.80 36.35,655.00 44.20,648.80 52.05,655.00 59.90,648.80 67.75,655.00 75.60,648.80 83.45,655.00 91.30,648.80 99.15,655.00 107.00,648.80 114.85,655.00 122.70,648.80 130.55,655.00 138.40,648.80 146.25,655.00 154.10,648.80 161.95,655.00 169.80,648.80 177.65,655.00 185.50,648.80 193.35,655.00 201.20,648.80 209.05,655.00 216.90,648.80 224.75,655.00 232.60,648.80 240.45,655.00 248.30,648.80 256.15,655.00 264.00,648.80 271.85,655.00 279.70,648.80 287.55,655.00 295.40,648.80 303.25,655.00 311.10,648.80 318.95,655.00 326.80,648.80 334.65,655.00 342.50,648.80 350.35,655.00 358.20,648.80 366.05,655.00 373.90,648.80 381.75,655.00 389.60,648.80 397.45,655.00 405.30,648.80 413.15,655.00 415.80,648.80" fill="none" stroke="#3c3f52" stroke-width="0.9" opacity="1.0"/>
<rect x="52.8" y="221" width="6.6" height="413" fill="url(#postB)"/>
<rect x="388.6" y="221" width="5.8" height="413" fill="url(#postBR)"/>
<rect x="29.0" y="202" width="6.8" height="470" fill="url(#post)"/>
<rect x="412.7" y="202" width="6.6" height="470" fill="url(#postR)"/>
<path d="M28.60,203.20 Q28.60,202.00 29.80,202.00 L35.00,202.00 Q36.20,202.00 36.20,203.20 L36.20,208.00 L35.80,211.00 L29.00,211.00 L28.60,208.00 Z" fill="url(#post)"/>
<path d="M412.30,203.20 Q412.30,202.00 413.50,202.00 L418.50,202.00 Q419.70,202.00 419.70,203.20 L419.70,208.00 L419.30,211.00 L412.70,211.00 L412.30,208.00 Z" fill="url(#postR)"/>
<path d="M28.65,301.80 Q28.65,300.60 29.85,300.60 L34.95,300.60 Q36.15,300.60 36.15,301.80 L36.15,309.50 L35.35,312.50 L29.45,312.50 L28.65,309.50 Z" fill="url(#collar)"/>
<path d="M412.35,301.80 Q412.35,300.60 413.55,300.60 L418.45,300.60 Q419.65,300.60 419.65,301.80 L419.65,309.50 L418.85,312.50 L413.15,312.50 L412.35,309.50 Z" fill="url(#collar)"/>
<path d="M28.65,412.70 Q28.65,411.50 29.85,411.50 L34.95,411.50 Q36.15,411.50 36.15,412.70 L36.15,421.00 L35.35,424.00 L29.45,424.00 L28.65,421.00 Z" fill="url(#collar)"/>
<path d="M412.35,412.70 Q412.35,411.50 413.55,411.50 L418.45,411.50 Q419.65,411.50 419.65,412.70 L419.65,421.00 L418.85,424.00 L413.15,424.00 L412.35,421.00 Z" fill="url(#collar)"/>
<path d="M28.65,529.80 Q28.65,528.60 29.85,528.60 L34.95,528.60 Q36.15,528.60 36.15,529.80 L36.15,540.00 L35.35,543.00 L29.45,543.00 L28.65,540.00 Z" fill="url(#collar)"/>
<path d="M412.35,529.80 Q412.35,528.60 413.55,528.60 L418.45,528.60 Q419.65,528.60 419.65,529.80 L419.65,540.00 L418.85,543.00 L413.15,543.00 L412.35,540.00 Z" fill="url(#collar)"/>
<path d="M28.65,647.50 Q28.65,646.30 29.85,646.30 L34.95,646.30 Q36.15,646.30 36.15,647.50 L36.15,656.00 L35.35,659.00 L29.45,659.00 L28.65,656.00 Z" fill="url(#collar)"/>
<path d="M412.35,647.50 Q412.35,646.30 413.55,646.30 L418.45,646.30 Q419.65,646.30 419.65,647.50 L419.65,656.00 L418.85,659.00 L413.15,659.00 L412.35,656.00 Z" fill="url(#collar)"/>
<rect x="29.10" y="658" width="6.6" height="14.6" rx="1.5" fill="url(#collar)"/>
<rect x="412.80" y="658" width="6.4" height="14.6" rx="1.5" fill="url(#collar)"/>
<path d="M52.30,222.70 Q52.30,221.50 53.50,221.50 L58.50,221.50 Q59.70,221.50 59.70,222.70 L59.70,229.50 L58.90,232.50 L53.10,232.50 L52.30,229.50 Z" fill="url(#collar)"/>
<path d="M388.00,222.70 Q388.00,221.50 389.20,221.50 L393.80,221.50 Q395.00,221.50 395.00,222.70 L395.00,229.50 L394.20,232.50 L388.80,232.50 L388.00,229.50 Z" fill="url(#collar)"/>
<path d="M52.50,305.70 Q52.50,304.50 53.70,304.50 L58.30,304.50 Q59.50,304.50 59.50,305.70 L59.50,311.00 L58.90,314.00 L53.10,314.00 L52.50,311.00 Z" fill="url(#collar)"/>
<path d="M388.30,305.70 Q388.30,304.50 389.50,304.50 L393.70,304.50 Q394.90,304.50 394.90,305.70 L394.90,311.00 L394.30,314.00 L388.90,314.00 L388.30,311.00 Z" fill="url(#collar)"/>
<path d="M52.50,406.00 Q52.50,404.80 53.70,404.80 L58.30,404.80 Q59.50,404.80 59.50,406.00 L59.50,412.00 L58.90,415.00 L53.10,415.00 L52.50,412.00 Z" fill="url(#collar)"/>
<path d="M388.30,406.00 Q388.30,404.80 389.50,404.80 L393.70,404.80 Q394.90,404.80 394.90,406.00 L394.90,412.00 L394.30,415.00 L388.90,415.00 L388.30,412.00 Z" fill="url(#collar)"/>
<path d="M52.50,510.00 Q52.50,508.80 53.70,508.80 L58.30,508.80 Q59.50,508.80 59.50,510.00 L59.50,516.50 L58.90,519.50 L53.10,519.50 L52.50,516.50 Z" fill="url(#collar)"/>
<path d="M388.30,510.00 Q388.30,508.80 389.50,508.80 L393.70,508.80 Q394.90,508.80 394.90,510.00 L394.90,516.50 L394.30,519.50 L388.90,519.50 L388.30,516.50 Z" fill="url(#collar)"/>
<path d="M52.50,611.20 Q52.50,610.00 53.70,610.00 L58.30,610.00 Q59.50,610.00 59.50,611.20 L59.50,631.00 L58.90,634.00 L53.10,634.00 L52.50,631.00 Z" fill="url(#collar)"/>
<path d="M388.30,611.20 Q388.30,610.00 389.50,610.00 L393.70,610.00 Q394.90,610.00 394.90,611.20 L394.90,631.00 L394.30,634.00 L388.90,634.00 L388.30,631.00 Z" fill="url(#collar)"/>
<polygon points="198.90,136.00 237.60,136.00 256.30,203.60 179.90,203.60" fill="#000" />
<polygon points="198.90,236.60 237.60,236.60 256.30,304.20 179.90,304.20" fill="#000" />
<polygon points="198.90,337.00 237.60,337.00 256.30,404.60 179.90,404.60" fill="#000" />
<polygon points="198.90,449.80 237.60,449.80 256.30,517.40 179.90,517.40" fill="#000" />
<polygon points="198.90,562.90 237.60,562.90 256.30,630.50 179.90,630.50" fill="#000" /></svg>
<svg width="679" height="675" style="position:absolute;left:0;top:0"><polygon points="120,60 622,60 569.5,87.3 68,87.3" fill="#000"/></svg>
<div class="t" style="left:-1.0px;top:-0.6px;font-size:32.5px;color:#1f1b1c;letter-spacing:0.7px">Utility</div><div class="t" style="left:90.3px;top:-0.6px;font-size:32.5px;color:#1f1b1c;transform:scaleX(0.867)">Basics</div><div class="t" style="left:175.5px;top:2.6px;font-size:6px;font-weight:700;color:#231f20;transform:scaleX(0.95)">TM</div><div class="t" style="left:131.5px;top:63.6px;font-size:23.5px;font-weight:400;color:#fff;transform:scaleX(0.975)">60" x 18" x 72"</div><div class="t" style="left:286.85px;top:63.6px;font-size:23.5px;font-weight:400;color:#fff;transform:scaleX(1.151)">5-Tier</div><div class="t" style="left:362.5px;top:63.6px;font-size:23.5px;font-weight:700;color:#fff;transform:scaleX(1.1)">Black</div><div class="t" style="left:438.6px;top:63.6px;font-size:23.5px;font-weight:400;color:#fff;transform:scaleX(1.075)">Wire Rack</div><div class="t" style="left:199.3px;top:146.87px;font-size:21.3px;font-weight:700;color:#fff;letter-spacing:0.3px;transform:scaleX(1.03);-webkit-text-stroke:0.6px #fff">800</div><div class="t" style="left:203.4px;top:173.29px;font-size:20.8px;font-weight:700;color:#fff;letter-spacing:0.1px;transform:scaleX(0.97);-webkit-text-stroke:0.5px #fff">lbs</div><div class="t" style="left:199.3px;top:247.47px;font-size:21.3px;font-weight:700;color:#fff;letter-spacing:0.3px;transform:scaleX(1.03);-webkit-text-stroke:0.6px #fff">800</div><div class="t" style="left:203.4px;top:273.89px;font-size:20.8px;font-weight:700;color:#fff;letter-spacing:0.1px;transform:scaleX(0.97);-webkit-text-stroke:0.5px #fff">lbs</div><div class="t" style="left:199.3px;top:347.87px;font-size:21.3px;font-weight:700;color:#fff;letter-spacing:0.3px;transform:scaleX(1.03);-webkit-text-stroke:0.6px #fff">800</div><div class="t" style="left:203.4px;top:374.29px;font-size:20.8px;font-weight:700;color:#fff;letter-spacing:0.1px;transform:scaleX(0.97);-webkit-text-stroke:0.5px #fff">lbs</div><div class="t" style="left:199.3px;top:460.67px;font-size:21.3px;font-weight:700;color:#fff;letter-spacing:0.3px;transform:scaleX(1.03);-webkit-text-stroke:0.6px #fff">800</div><div class="t" style="left:203.4px;top:487.09px;font-size:20.8px;font-weight:700;color:#fff;letter-spacing:0.1px;transform:scaleX(0.97);-webkit-text-stroke:0.5px #fff">lbs</div><div class="t" style="left:199.3px;top:573.77px;font-size:21.3px;font-weight:700;color:#fff;letter-spacing:0.3px;transform:scaleX(1.03);-webkit-text-stroke:0.6px #fff">800</div><div class="t" style="left:203.4px;top:600.19px;font-size:20.8px;font-weight:700;color:#fff;letter-spacing:0.1px;transform:scaleX(0.97);-webkit-text-stroke:0.5px #fff">lbs</div><div class="t" style="left:440.09999999999997px;top:263.77px;font-size:21.3px;font-weight:400;color:#1b1b1b;transform:scaleX(1.15);letter-spacing:0.67px">Maximum Weight</div><div class="t" style="left:439.9px;top:289.97px;font-size:21.3px;font-weight:400;color:#1b1b1b;transform:scaleX(1.15);letter-spacing:1.0px">Capacity</div><div class="t" style="left:439.29999999999995px;top:336.67px;font-size:21.3px;font-weight:400;color:#1b1b1b;transform:scaleX(1.12);letter-spacing:0.3px">4,000 lbs on <b>Leveling</b></div><div class="t" style="left:439.9px;top:362.87px;font-size:21.3px;font-weight:400;color:#1b1b1b;transform:scaleX(1.12);letter-spacing:0.55px"><b>Feet</b> (800 lbs per</div><div class="t" style="left:439.9px;top:388.77px;font-size:21.3px;font-weight:400;color:#1b1b1b;transform:scaleX(1.12);letter-spacing:0.85px">shelf)</div><div class="t" style="left:439.9px;top:441.47px;font-size:21.3px;font-weight:400;color:#1b1b1b;transform:scaleX(1.12);letter-spacing:0.45px">720 lbs on <b>Caster</b></div><div class="t" style="left:439.9px;top:467.57px;font-size:21.3px;font-weight:400;color:#1b1b1b;transform:scaleX(1.12);letter-spacing:0.2px"><b>Wheels</b> (144 lbs per</div><div class="t" style="left:439.9px;top:493.47px;font-size:21.3px;font-weight:400;color:#1b1b1b;transform:scaleX(1.12);letter-spacing:0.85px">shelf)</div>
</body></html>
